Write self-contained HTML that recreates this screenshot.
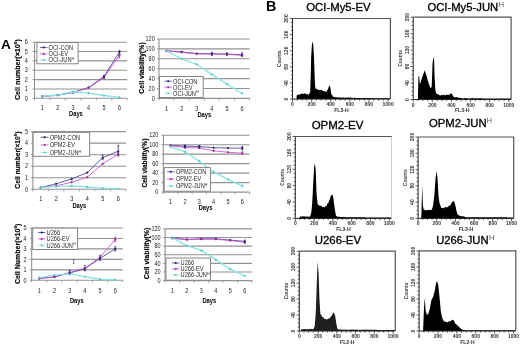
<!DOCTYPE html><html><head><meta charset="utf-8"><style>html,body{margin:0;padding:0;background:#fff;overflow:hidden;}svg{display:block;filter:blur(0.4px);}</style></head><body>
<svg width="520" height="345" viewBox="0 0 520 345" font-family='"Liberation Sans", sans-serif'>
<rect width="520" height="345" fill="#fff"/>
<line x1="34.5" y1="42.20" x2="127.2" y2="42.20" stroke="#929292" stroke-width="1.1"/>
<line x1="34.5" y1="51.55" x2="127.2" y2="51.55" stroke="#929292" stroke-width="1.1"/>
<line x1="34.5" y1="60.90" x2="127.2" y2="60.90" stroke="#929292" stroke-width="1.1"/>
<line x1="34.5" y1="70.25" x2="127.2" y2="70.25" stroke="#929292" stroke-width="1.1"/>
<line x1="34.5" y1="79.60" x2="127.2" y2="79.60" stroke="#929292" stroke-width="1.1"/>
<line x1="34.5" y1="88.95" x2="127.2" y2="88.95" stroke="#929292" stroke-width="1.1"/>
<line x1="34.5" y1="42.20" x2="34.5" y2="98.80" stroke="#929292" stroke-width="1.1"/>
<line x1="34.0" y1="98.30" x2="127.2" y2="98.30" stroke="#929292" stroke-width="1.1"/>
<line x1="32.5" y1="42.20" x2="34.5" y2="42.20" stroke="#929292" stroke-width="0.9"/>
<text transform="translate(27.90,44.40) scale(0.87,1)" font-size="6.3" text-anchor="end" fill="#222">6</text>
<line x1="32.5" y1="51.55" x2="34.5" y2="51.55" stroke="#929292" stroke-width="0.9"/>
<text transform="translate(27.90,53.75) scale(0.87,1)" font-size="6.3" text-anchor="end" fill="#222">5</text>
<line x1="32.5" y1="60.90" x2="34.5" y2="60.90" stroke="#929292" stroke-width="0.9"/>
<text transform="translate(27.90,63.10) scale(0.87,1)" font-size="6.3" text-anchor="end" fill="#222">4</text>
<line x1="32.5" y1="70.25" x2="34.5" y2="70.25" stroke="#929292" stroke-width="0.9"/>
<text transform="translate(27.90,72.45) scale(0.87,1)" font-size="6.3" text-anchor="end" fill="#222">3</text>
<line x1="32.5" y1="79.60" x2="34.5" y2="79.60" stroke="#929292" stroke-width="0.9"/>
<text transform="translate(27.90,81.80) scale(0.87,1)" font-size="6.3" text-anchor="end" fill="#222">2</text>
<line x1="32.5" y1="88.95" x2="34.5" y2="88.95" stroke="#929292" stroke-width="0.9"/>
<text transform="translate(27.90,91.15) scale(0.87,1)" font-size="6.3" text-anchor="end" fill="#222">1</text>
<line x1="32.5" y1="98.30" x2="34.5" y2="98.30" stroke="#929292" stroke-width="0.9"/>
<text transform="translate(27.90,100.50) scale(0.87,1)" font-size="6.3" text-anchor="end" fill="#222">0</text>
<line x1="34.50" y1="98.30" x2="34.50" y2="100.30" stroke="#929292" stroke-width="0.9"/>
<line x1="49.95" y1="98.30" x2="49.95" y2="100.30" stroke="#929292" stroke-width="0.9"/>
<line x1="65.40" y1="98.30" x2="65.40" y2="100.30" stroke="#929292" stroke-width="0.9"/>
<line x1="80.85" y1="98.30" x2="80.85" y2="100.30" stroke="#929292" stroke-width="0.9"/>
<line x1="96.30" y1="98.30" x2="96.30" y2="100.30" stroke="#929292" stroke-width="0.9"/>
<line x1="111.75" y1="98.30" x2="111.75" y2="100.30" stroke="#929292" stroke-width="0.9"/>
<line x1="127.20" y1="98.30" x2="127.20" y2="100.30" stroke="#929292" stroke-width="0.9"/>
<text transform="translate(42.23,110.15) scale(0.87,1)" font-size="6.3" text-anchor="middle" fill="#222">1</text>
<text transform="translate(57.68,110.15) scale(0.87,1)" font-size="6.3" text-anchor="middle" fill="#222">2</text>
<text transform="translate(73.12,110.15) scale(0.87,1)" font-size="6.3" text-anchor="middle" fill="#222">3</text>
<text transform="translate(88.58,110.15) scale(0.87,1)" font-size="6.3" text-anchor="middle" fill="#222">4</text>
<text transform="translate(104.03,110.15) scale(0.87,1)" font-size="6.3" text-anchor="middle" fill="#222">5</text>
<text transform="translate(119.47,110.15) scale(0.87,1)" font-size="6.3" text-anchor="middle" fill="#222">6</text>
<text transform="translate(75.90,115.70) scale(0.87,1)" font-size="6.6" font-weight="bold" text-anchor="middle" fill="#000">Days</text>
<text transform="translate(19.90,69.65) rotate(-90)" font-size="6.4" font-weight="bold" text-anchor="middle" fill="#000" stroke="#000" stroke-width="0.15" textLength="60.9" lengthAdjust="spacingAndGlyphs">Cell number(×10<tspan font-size="4.2" dy="-2.6">6</tspan><tspan dy="2.6">)</tspan></text>
<polyline points="42.23,96.43 57.68,95.21 73.12,92.50 88.58,87.55 104.03,76.33 119.47,52.02" fill="none" stroke="#40409a" stroke-width="0.85"/>
<rect x="41.27" y="95.48" width="1.9" height="1.9" fill="#1c1c64" transform="rotate(45 42.23 96.43)"/>
<rect x="56.73" y="94.26" width="1.9" height="1.9" fill="#1c1c64" transform="rotate(45 57.68 95.21)"/>
<rect x="72.17" y="91.55" width="1.9" height="1.9" fill="#1c1c64" transform="rotate(45 73.12 92.50)"/>
<rect x="87.62" y="86.60" width="1.9" height="1.9" fill="#1c1c64" transform="rotate(45 88.58 87.55)"/>
<rect x="103.08" y="75.38" width="1.9" height="1.9" fill="#1c1c64" transform="rotate(45 104.03 76.33)"/>
<rect x="118.52" y="51.07" width="1.9" height="1.9" fill="#1c1c64" transform="rotate(45 119.47 52.02)"/>
<polyline points="42.23,96.43 57.68,95.21 73.12,92.32 88.58,87.83 104.03,77.54 119.47,55.29" fill="none" stroke="#d048d0" stroke-width="0.85"/>
<rect x="41.27" y="95.48" width="1.9" height="1.9" fill="#a02894" transform="rotate(45 42.23 96.43)"/>
<rect x="56.73" y="94.26" width="1.9" height="1.9" fill="#a02894" transform="rotate(45 57.68 95.21)"/>
<rect x="72.17" y="91.37" width="1.9" height="1.9" fill="#a02894" transform="rotate(45 73.12 92.32)"/>
<rect x="87.62" y="86.88" width="1.9" height="1.9" fill="#a02894" transform="rotate(45 88.58 87.83)"/>
<rect x="103.08" y="76.59" width="1.9" height="1.9" fill="#a02894" transform="rotate(45 104.03 77.54)"/>
<rect x="118.52" y="54.34" width="1.9" height="1.9" fill="#a02894" transform="rotate(45 119.47 55.29)"/>
<polyline points="42.23,96.43 57.68,95.03 73.12,91.75 88.58,93.16 104.03,95.50 119.47,97.36" fill="none" stroke="#88e4e4" stroke-width="1.35"/>
<rect x="41.27" y="95.48" width="1.9" height="1.9" fill="#58c4c4" transform="rotate(45 42.23 96.43)"/>
<rect x="56.73" y="94.08" width="1.9" height="1.9" fill="#58c4c4" transform="rotate(45 57.68 95.03)"/>
<rect x="72.17" y="90.80" width="1.9" height="1.9" fill="#58c4c4" transform="rotate(45 73.12 91.75)"/>
<rect x="87.62" y="92.21" width="1.9" height="1.9" fill="#58c4c4" transform="rotate(45 88.58 93.16)"/>
<rect x="103.08" y="94.55" width="1.9" height="1.9" fill="#58c4c4" transform="rotate(45 104.03 95.50)"/>
<rect x="118.52" y="96.41" width="1.9" height="1.9" fill="#58c4c4" transform="rotate(45 119.47 97.36)"/>
<path d="M119.47 54.36V50.62M118.47 54.36h2M118.47 50.62h2" stroke="#1c1c64" stroke-width="0.7" fill="none"/>
<path d="M119.47 58.09V53.89M118.47 58.09h2M118.47 53.89h2" stroke="#a02894" stroke-width="0.7" fill="none"/>
<path d="M104.03 78.20V75.39M103.03 78.20h2M103.03 75.39h2" stroke="#1c1c64" stroke-width="0.7" fill="none"/>
<rect x="36.9" y="42.6" width="41.20" height="21.20" fill="#fff" stroke="#7a7a7a" stroke-width="0.9"/>
<line x1="40" y1="47.4" x2="47.4" y2="47.4" stroke="#40409a" stroke-width="0.8"/>
<rect x="42.80" y="46.50" width="1.8" height="1.8" fill="#1c1c64" transform="rotate(45 43.70 47.40)"/>
<text transform="translate(48.60,49.70) scale(0.87,1)" font-size="6.5" fill="#2a2a2a">OCI-CON</text>
<line x1="40" y1="53.9" x2="47.4" y2="53.9" stroke="#d048d0" stroke-width="0.8"/>
<rect x="42.80" y="53.00" width="1.8" height="1.8" fill="#a02894" transform="rotate(45 43.70 53.90)"/>
<text transform="translate(48.60,56.20) scale(0.87,1)" font-size="6.5" fill="#2a2a2a">OCI-EV</text>
<line x1="40" y1="59.9" x2="47.4" y2="59.9" stroke="#88e4e4" stroke-width="0.8"/>
<rect x="42.80" y="59.00" width="1.8" height="1.8" fill="#58c4c4" transform="rotate(45 43.70 59.90)"/>
<text transform="translate(48.60,62.20) scale(0.87,1)" font-size="6.5" fill="#2a2a2a">OCI-JUN<tspan font-size="4.2" dy="-2.4">H</tspan></text>
<line x1="159" y1="39.00" x2="249.6" y2="39.00" stroke="#929292" stroke-width="1.1"/>
<line x1="159" y1="48.90" x2="249.6" y2="48.90" stroke="#929292" stroke-width="1.1"/>
<line x1="159" y1="58.80" x2="249.6" y2="58.80" stroke="#929292" stroke-width="1.1"/>
<line x1="159" y1="68.70" x2="249.6" y2="68.70" stroke="#929292" stroke-width="1.1"/>
<line x1="159" y1="78.60" x2="249.6" y2="78.60" stroke="#929292" stroke-width="1.1"/>
<line x1="159" y1="88.50" x2="249.6" y2="88.50" stroke="#929292" stroke-width="1.1"/>
<line x1="159" y1="39.00" x2="159" y2="98.90" stroke="#929292" stroke-width="1.1"/>
<line x1="158.5" y1="98.40" x2="249.6" y2="98.40" stroke="#929292" stroke-width="1.1"/>
<line x1="157" y1="39.00" x2="159" y2="39.00" stroke="#929292" stroke-width="0.9"/>
<text transform="translate(154.70,41.20) scale(0.87,1)" font-size="6.3" text-anchor="end" fill="#222">120</text>
<line x1="157" y1="48.90" x2="159" y2="48.90" stroke="#929292" stroke-width="0.9"/>
<text transform="translate(154.70,51.10) scale(0.87,1)" font-size="6.3" text-anchor="end" fill="#222">100</text>
<line x1="157" y1="58.80" x2="159" y2="58.80" stroke="#929292" stroke-width="0.9"/>
<text transform="translate(154.70,61.00) scale(0.87,1)" font-size="6.3" text-anchor="end" fill="#222">80</text>
<line x1="157" y1="68.70" x2="159" y2="68.70" stroke="#929292" stroke-width="0.9"/>
<text transform="translate(154.70,70.90) scale(0.87,1)" font-size="6.3" text-anchor="end" fill="#222">60</text>
<line x1="157" y1="78.60" x2="159" y2="78.60" stroke="#929292" stroke-width="0.9"/>
<text transform="translate(154.70,80.80) scale(0.87,1)" font-size="6.3" text-anchor="end" fill="#222">40</text>
<line x1="157" y1="88.50" x2="159" y2="88.50" stroke="#929292" stroke-width="0.9"/>
<text transform="translate(154.70,90.70) scale(0.87,1)" font-size="6.3" text-anchor="end" fill="#222">20</text>
<line x1="157" y1="98.40" x2="159" y2="98.40" stroke="#929292" stroke-width="0.9"/>
<text transform="translate(154.70,100.60) scale(0.87,1)" font-size="6.3" text-anchor="end" fill="#222">0</text>
<line x1="159.00" y1="98.40" x2="159.00" y2="100.40" stroke="#929292" stroke-width="0.9"/>
<line x1="174.10" y1="98.40" x2="174.10" y2="100.40" stroke="#929292" stroke-width="0.9"/>
<line x1="189.20" y1="98.40" x2="189.20" y2="100.40" stroke="#929292" stroke-width="0.9"/>
<line x1="204.30" y1="98.40" x2="204.30" y2="100.40" stroke="#929292" stroke-width="0.9"/>
<line x1="219.40" y1="98.40" x2="219.40" y2="100.40" stroke="#929292" stroke-width="0.9"/>
<line x1="234.50" y1="98.40" x2="234.50" y2="100.40" stroke="#929292" stroke-width="0.9"/>
<line x1="249.60" y1="98.40" x2="249.60" y2="100.40" stroke="#929292" stroke-width="0.9"/>
<text transform="translate(166.55,110.75) scale(0.87,1)" font-size="6.3" text-anchor="middle" fill="#222">1</text>
<text transform="translate(181.65,110.75) scale(0.87,1)" font-size="6.3" text-anchor="middle" fill="#222">2</text>
<text transform="translate(196.75,110.75) scale(0.87,1)" font-size="6.3" text-anchor="middle" fill="#222">3</text>
<text transform="translate(211.85,110.75) scale(0.87,1)" font-size="6.3" text-anchor="middle" fill="#222">4</text>
<text transform="translate(226.95,110.75) scale(0.87,1)" font-size="6.3" text-anchor="middle" fill="#222">5</text>
<text transform="translate(242.05,110.75) scale(0.87,1)" font-size="6.3" text-anchor="middle" fill="#222">6</text>
<text transform="translate(204.30,116.70) scale(0.87,1)" font-size="6.6" font-weight="bold" text-anchor="middle" fill="#000">Days</text>
<text transform="translate(144.40,68.00) rotate(-90)" font-size="6.4" font-weight="bold" text-anchor="middle" fill="#000" stroke="#000" stroke-width="0.15" textLength="51.4" lengthAdjust="spacingAndGlyphs">Cell viability(%)</text>
<polyline points="166.55,50.88 181.65,51.87 196.75,53.60 211.85,53.85 226.95,54.10 242.05,54.84" fill="none" stroke="#40409a" stroke-width="0.85"/>
<rect x="165.60" y="49.93" width="1.9" height="1.9" fill="#1c1c64" transform="rotate(45 166.55 50.88)"/>
<rect x="180.70" y="50.92" width="1.9" height="1.9" fill="#1c1c64" transform="rotate(45 181.65 51.87)"/>
<rect x="195.80" y="52.65" width="1.9" height="1.9" fill="#1c1c64" transform="rotate(45 196.75 53.60)"/>
<rect x="210.90" y="52.90" width="1.9" height="1.9" fill="#1c1c64" transform="rotate(45 211.85 53.85)"/>
<rect x="226.00" y="53.15" width="1.9" height="1.9" fill="#1c1c64" transform="rotate(45 226.95 54.10)"/>
<rect x="241.10" y="53.89" width="1.9" height="1.9" fill="#1c1c64" transform="rotate(45 242.05 54.84)"/>
<polyline points="166.55,50.88 181.65,52.37 196.75,53.85 211.85,54.10 226.95,54.34 242.05,55.34" fill="none" stroke="#d048d0" stroke-width="0.85"/>
<rect x="165.60" y="49.93" width="1.9" height="1.9" fill="#a02894" transform="rotate(45 166.55 50.88)"/>
<rect x="180.70" y="51.41" width="1.9" height="1.9" fill="#a02894" transform="rotate(45 181.65 52.37)"/>
<rect x="195.80" y="52.90" width="1.9" height="1.9" fill="#a02894" transform="rotate(45 196.75 53.85)"/>
<rect x="210.90" y="53.15" width="1.9" height="1.9" fill="#a02894" transform="rotate(45 211.85 54.10)"/>
<rect x="226.00" y="53.39" width="1.9" height="1.9" fill="#a02894" transform="rotate(45 226.95 54.34)"/>
<rect x="241.10" y="54.38" width="1.9" height="1.9" fill="#a02894" transform="rotate(45 242.05 55.34)"/>
<polyline points="166.55,50.88 181.65,58.80 196.75,64.25 211.85,74.39 226.95,84.05 242.05,93.45" fill="none" stroke="#88e4e4" stroke-width="1.35"/>
<rect x="165.60" y="49.93" width="1.9" height="1.9" fill="#58c4c4" transform="rotate(45 166.55 50.88)"/>
<rect x="180.70" y="57.85" width="1.9" height="1.9" fill="#58c4c4" transform="rotate(45 181.65 58.80)"/>
<rect x="195.80" y="63.30" width="1.9" height="1.9" fill="#58c4c4" transform="rotate(45 196.75 64.25)"/>
<rect x="210.90" y="73.44" width="1.9" height="1.9" fill="#58c4c4" transform="rotate(45 211.85 74.39)"/>
<rect x="226.00" y="83.09" width="1.9" height="1.9" fill="#58c4c4" transform="rotate(45 226.95 84.05)"/>
<rect x="241.10" y="92.50" width="1.9" height="1.9" fill="#58c4c4" transform="rotate(45 242.05 93.45)"/>
<path d="M211.85 55.34V52.37M210.85 55.34h2M210.85 52.37h2" stroke="#1c1c64" stroke-width="0.7" fill="none"/>
<path d="M226.95 55.34V52.86M225.95 55.34h2M225.95 52.86h2" stroke="#1c1c64" stroke-width="0.7" fill="none"/>
<path d="M242.05 56.33V52.86M241.05 56.33h2M241.05 52.86h2" stroke="#1c1c64" stroke-width="0.7" fill="none"/>
<rect x="159.5" y="76.5" width="43.70" height="21.00" fill="#fff" stroke="#7a7a7a" stroke-width="0.9"/>
<line x1="164.5" y1="81.2" x2="171.8" y2="81.2" stroke="#40409a" stroke-width="0.8"/>
<rect x="167.25" y="80.30" width="1.8" height="1.8" fill="#1c1c64" transform="rotate(45 168.15 81.20)"/>
<text transform="translate(173.00,83.50) scale(0.87,1)" font-size="6.5" fill="#2a2a2a">OCI-CON</text>
<line x1="164.5" y1="87.2" x2="171.8" y2="87.2" stroke="#d048d0" stroke-width="0.8"/>
<rect x="167.25" y="86.30" width="1.8" height="1.8" fill="#a02894" transform="rotate(45 168.15 87.20)"/>
<text transform="translate(173.00,89.50) scale(0.87,1)" font-size="6.5" fill="#2a2a2a">OCI-EV</text>
<line x1="164.5" y1="93.2" x2="171.8" y2="93.2" stroke="#88e4e4" stroke-width="0.8"/>
<rect x="167.25" y="92.30" width="1.8" height="1.8" fill="#58c4c4" transform="rotate(45 168.15 93.20)"/>
<text transform="translate(173.00,95.50) scale(0.87,1)" font-size="6.5" fill="#2a2a2a">OCI-JUN<tspan font-size="4.2" dy="-2.4">H</tspan></text>
<line x1="32.9" y1="131.60" x2="126" y2="131.60" stroke="#929292" stroke-width="1.1"/>
<line x1="32.9" y1="143.14" x2="126" y2="143.14" stroke="#929292" stroke-width="1.1"/>
<line x1="32.9" y1="154.68" x2="126" y2="154.68" stroke="#929292" stroke-width="1.1"/>
<line x1="32.9" y1="166.22" x2="126" y2="166.22" stroke="#929292" stroke-width="1.1"/>
<line x1="32.9" y1="177.76" x2="126" y2="177.76" stroke="#929292" stroke-width="1.1"/>
<line x1="32.9" y1="131.60" x2="32.9" y2="189.80" stroke="#929292" stroke-width="1.1"/>
<line x1="32.4" y1="189.30" x2="126" y2="189.30" stroke="#929292" stroke-width="1.1"/>
<line x1="30.9" y1="131.60" x2="32.9" y2="131.60" stroke="#929292" stroke-width="0.9"/>
<text transform="translate(28.00,133.80) scale(0.87,1)" font-size="6.3" text-anchor="end" fill="#222">5</text>
<line x1="30.9" y1="143.14" x2="32.9" y2="143.14" stroke="#929292" stroke-width="0.9"/>
<text transform="translate(28.00,145.34) scale(0.87,1)" font-size="6.3" text-anchor="end" fill="#222">4</text>
<line x1="30.9" y1="154.68" x2="32.9" y2="154.68" stroke="#929292" stroke-width="0.9"/>
<text transform="translate(28.00,156.88) scale(0.87,1)" font-size="6.3" text-anchor="end" fill="#222">3</text>
<line x1="30.9" y1="166.22" x2="32.9" y2="166.22" stroke="#929292" stroke-width="0.9"/>
<text transform="translate(28.00,168.42) scale(0.87,1)" font-size="6.3" text-anchor="end" fill="#222">2</text>
<line x1="30.9" y1="177.76" x2="32.9" y2="177.76" stroke="#929292" stroke-width="0.9"/>
<text transform="translate(28.00,179.96) scale(0.87,1)" font-size="6.3" text-anchor="end" fill="#222">1</text>
<line x1="30.9" y1="189.30" x2="32.9" y2="189.30" stroke="#929292" stroke-width="0.9"/>
<text transform="translate(28.00,191.50) scale(0.87,1)" font-size="6.3" text-anchor="end" fill="#222">0</text>
<line x1="32.90" y1="189.30" x2="32.90" y2="191.30" stroke="#929292" stroke-width="0.9"/>
<line x1="48.42" y1="189.30" x2="48.42" y2="191.30" stroke="#929292" stroke-width="0.9"/>
<line x1="63.93" y1="189.30" x2="63.93" y2="191.30" stroke="#929292" stroke-width="0.9"/>
<line x1="79.45" y1="189.30" x2="79.45" y2="191.30" stroke="#929292" stroke-width="0.9"/>
<line x1="94.97" y1="189.30" x2="94.97" y2="191.30" stroke="#929292" stroke-width="0.9"/>
<line x1="110.48" y1="189.30" x2="110.48" y2="191.30" stroke="#929292" stroke-width="0.9"/>
<line x1="126.00" y1="189.30" x2="126.00" y2="191.30" stroke="#929292" stroke-width="0.9"/>
<text transform="translate(40.66,201.15) scale(0.87,1)" font-size="6.3" text-anchor="middle" fill="#222">1</text>
<text transform="translate(56.17,201.15) scale(0.87,1)" font-size="6.3" text-anchor="middle" fill="#222">2</text>
<text transform="translate(71.69,201.15) scale(0.87,1)" font-size="6.3" text-anchor="middle" fill="#222">3</text>
<text transform="translate(87.21,201.15) scale(0.87,1)" font-size="6.3" text-anchor="middle" fill="#222">4</text>
<text transform="translate(102.72,201.15) scale(0.87,1)" font-size="6.3" text-anchor="middle" fill="#222">5</text>
<text transform="translate(118.24,201.15) scale(0.87,1)" font-size="6.3" text-anchor="middle" fill="#222">6</text>
<text transform="translate(79.30,207.70) scale(0.87,1)" font-size="6.6" font-weight="bold" text-anchor="middle" fill="#000">Days</text>
<text transform="translate(19.60,160.15) rotate(-90)" font-size="6.4" font-weight="bold" text-anchor="middle" fill="#000" stroke="#000" stroke-width="0.15" textLength="57.1" lengthAdjust="spacingAndGlyphs">Cell number(×10<tspan font-size="4.2" dy="-2.6">6</tspan><tspan dy="2.6">)</tspan></text>
<polyline points="40.66,187.57 56.17,183.76 71.69,178.91 87.21,172.57 102.72,157.68 118.24,151.22" fill="none" stroke="#40409a" stroke-width="0.85"/>
<rect x="39.71" y="186.62" width="1.9" height="1.9" fill="#1c1c64" transform="rotate(45 40.66 187.57)"/>
<rect x="55.22" y="182.81" width="1.9" height="1.9" fill="#1c1c64" transform="rotate(45 56.17 183.76)"/>
<rect x="70.74" y="177.96" width="1.9" height="1.9" fill="#1c1c64" transform="rotate(45 71.69 178.91)"/>
<rect x="86.26" y="171.62" width="1.9" height="1.9" fill="#1c1c64" transform="rotate(45 87.21 172.57)"/>
<rect x="101.77" y="156.73" width="1.9" height="1.9" fill="#1c1c64" transform="rotate(45 102.72 157.68)"/>
<rect x="117.29" y="150.27" width="1.9" height="1.9" fill="#1c1c64" transform="rotate(45 118.24 151.22)"/>
<polyline points="40.66,187.57 56.17,185.95 71.69,182.15 87.21,177.18 102.72,163.91 118.24,154.10" fill="none" stroke="#d048d0" stroke-width="0.85"/>
<rect x="39.71" y="186.62" width="1.9" height="1.9" fill="#a02894" transform="rotate(45 40.66 187.57)"/>
<rect x="55.22" y="185.00" width="1.9" height="1.9" fill="#a02894" transform="rotate(45 56.17 185.95)"/>
<rect x="70.74" y="181.20" width="1.9" height="1.9" fill="#a02894" transform="rotate(45 71.69 182.15)"/>
<rect x="86.26" y="176.23" width="1.9" height="1.9" fill="#a02894" transform="rotate(45 87.21 177.18)"/>
<rect x="101.77" y="162.96" width="1.9" height="1.9" fill="#a02894" transform="rotate(45 102.72 163.91)"/>
<rect x="117.29" y="153.15" width="1.9" height="1.9" fill="#a02894" transform="rotate(45 118.24 154.10)"/>
<polyline points="40.66,187.57 56.17,186.42 71.69,185.84 87.21,186.99 102.72,188.15 118.24,188.72" fill="none" stroke="#88e4e4" stroke-width="1.35"/>
<rect x="39.71" y="186.62" width="1.9" height="1.9" fill="#58c4c4" transform="rotate(45 40.66 187.57)"/>
<rect x="55.22" y="185.47" width="1.9" height="1.9" fill="#58c4c4" transform="rotate(45 56.17 186.42)"/>
<rect x="70.74" y="184.89" width="1.9" height="1.9" fill="#58c4c4" transform="rotate(45 71.69 185.84)"/>
<rect x="86.26" y="186.04" width="1.9" height="1.9" fill="#58c4c4" transform="rotate(45 87.21 186.99)"/>
<rect x="101.77" y="187.20" width="1.9" height="1.9" fill="#58c4c4" transform="rotate(45 102.72 188.15)"/>
<rect x="117.29" y="187.77" width="1.9" height="1.9" fill="#58c4c4" transform="rotate(45 118.24 188.72)"/>
<path d="M118.24 155.83V145.45M117.24 155.83h2M117.24 145.45h2" stroke="#1c1c64" stroke-width="0.7" fill="none"/>
<path d="M102.72 159.30V155.26M101.72 159.30h2M101.72 155.26h2" stroke="#1c1c64" stroke-width="0.7" fill="none"/>
<path d="M118.24 155.83V152.37M117.24 155.83h2M117.24 152.37h2" stroke="#a02894" stroke-width="0.7" fill="none"/>
<rect x="33.1" y="132.3" width="56.60" height="24.00" fill="#fff" stroke="#7a7a7a" stroke-width="0.9"/>
<line x1="40.8" y1="137.2" x2="48.5" y2="137.2" stroke="#40409a" stroke-width="0.8"/>
<rect x="43.75" y="136.30" width="1.8" height="1.8" fill="#1c1c64" transform="rotate(45 44.65 137.20)"/>
<text transform="translate(49.70,139.50) scale(0.87,1)" font-size="6.5" fill="#2a2a2a">OPM2-CON</text>
<line x1="40.8" y1="144.9" x2="48.5" y2="144.9" stroke="#d048d0" stroke-width="0.8"/>
<rect x="43.75" y="144.00" width="1.8" height="1.8" fill="#a02894" transform="rotate(45 44.65 144.90)"/>
<text transform="translate(49.70,147.20) scale(0.87,1)" font-size="6.5" fill="#2a2a2a">OPM2-EV</text>
<line x1="40.8" y1="152.6" x2="48.5" y2="152.6" stroke="#88e4e4" stroke-width="0.8"/>
<rect x="43.75" y="151.70" width="1.8" height="1.8" fill="#58c4c4" transform="rotate(45 44.65 152.60)"/>
<text transform="translate(49.70,154.90) scale(0.87,1)" font-size="6.5" fill="#2a2a2a">OPM2-JUN<tspan font-size="4.2" dy="-2.4">H</tspan></text>
<line x1="163.4" y1="135.20" x2="249.5" y2="135.20" stroke="#929292" stroke-width="1.1"/>
<line x1="163.4" y1="144.68" x2="249.5" y2="144.68" stroke="#929292" stroke-width="1.1"/>
<line x1="163.4" y1="154.17" x2="249.5" y2="154.17" stroke="#929292" stroke-width="1.1"/>
<line x1="163.4" y1="163.65" x2="249.5" y2="163.65" stroke="#929292" stroke-width="1.1"/>
<line x1="163.4" y1="173.13" x2="249.5" y2="173.13" stroke="#929292" stroke-width="1.1"/>
<line x1="163.4" y1="182.62" x2="249.5" y2="182.62" stroke="#929292" stroke-width="1.1"/>
<line x1="163.4" y1="135.20" x2="163.4" y2="192.60" stroke="#929292" stroke-width="1.1"/>
<line x1="162.9" y1="192.10" x2="249.5" y2="192.10" stroke="#929292" stroke-width="1.1"/>
<line x1="161.4" y1="135.20" x2="163.4" y2="135.20" stroke="#929292" stroke-width="0.9"/>
<text transform="translate(158.40,137.40) scale(0.87,1)" font-size="6.3" text-anchor="end" fill="#222">120</text>
<line x1="161.4" y1="144.68" x2="163.4" y2="144.68" stroke="#929292" stroke-width="0.9"/>
<text transform="translate(158.40,146.88) scale(0.87,1)" font-size="6.3" text-anchor="end" fill="#222">100</text>
<line x1="161.4" y1="154.17" x2="163.4" y2="154.17" stroke="#929292" stroke-width="0.9"/>
<text transform="translate(158.40,156.37) scale(0.87,1)" font-size="6.3" text-anchor="end" fill="#222">80</text>
<line x1="161.4" y1="163.65" x2="163.4" y2="163.65" stroke="#929292" stroke-width="0.9"/>
<text transform="translate(158.40,165.85) scale(0.87,1)" font-size="6.3" text-anchor="end" fill="#222">60</text>
<line x1="161.4" y1="173.13" x2="163.4" y2="173.13" stroke="#929292" stroke-width="0.9"/>
<text transform="translate(158.40,175.33) scale(0.87,1)" font-size="6.3" text-anchor="end" fill="#222">40</text>
<line x1="161.4" y1="182.62" x2="163.4" y2="182.62" stroke="#929292" stroke-width="0.9"/>
<text transform="translate(158.40,184.82) scale(0.87,1)" font-size="6.3" text-anchor="end" fill="#222">20</text>
<line x1="161.4" y1="192.10" x2="163.4" y2="192.10" stroke="#929292" stroke-width="0.9"/>
<text transform="translate(158.40,194.30) scale(0.87,1)" font-size="6.3" text-anchor="end" fill="#222">0</text>
<line x1="163.40" y1="192.10" x2="163.40" y2="194.10" stroke="#929292" stroke-width="0.9"/>
<line x1="177.75" y1="192.10" x2="177.75" y2="194.10" stroke="#929292" stroke-width="0.9"/>
<line x1="192.10" y1="192.10" x2="192.10" y2="194.10" stroke="#929292" stroke-width="0.9"/>
<line x1="206.45" y1="192.10" x2="206.45" y2="194.10" stroke="#929292" stroke-width="0.9"/>
<line x1="220.80" y1="192.10" x2="220.80" y2="194.10" stroke="#929292" stroke-width="0.9"/>
<line x1="235.15" y1="192.10" x2="235.15" y2="194.10" stroke="#929292" stroke-width="0.9"/>
<line x1="249.50" y1="192.10" x2="249.50" y2="194.10" stroke="#929292" stroke-width="0.9"/>
<text transform="translate(170.58,203.75) scale(0.87,1)" font-size="6.3" text-anchor="middle" fill="#222">1</text>
<text transform="translate(184.93,203.75) scale(0.87,1)" font-size="6.3" text-anchor="middle" fill="#222">2</text>
<text transform="translate(199.28,203.75) scale(0.87,1)" font-size="6.3" text-anchor="middle" fill="#222">3</text>
<text transform="translate(213.62,203.75) scale(0.87,1)" font-size="6.3" text-anchor="middle" fill="#222">4</text>
<text transform="translate(227.98,203.75) scale(0.87,1)" font-size="6.3" text-anchor="middle" fill="#222">5</text>
<text transform="translate(242.33,203.75) scale(0.87,1)" font-size="6.3" text-anchor="middle" fill="#222">6</text>
<text transform="translate(205.50,210.30) scale(0.87,1)" font-size="6.6" font-weight="bold" text-anchor="middle" fill="#000">Days</text>
<text transform="translate(147.00,163.10) rotate(-90)" font-size="6.4" font-weight="bold" text-anchor="middle" fill="#000" stroke="#000" stroke-width="0.15" textLength="49" lengthAdjust="spacingAndGlyphs">Cell viability(%)</text>
<polyline points="170.58,145.39 184.93,146.11 199.28,146.58 213.62,147.72 227.98,148.00 242.33,148.19" fill="none" stroke="#40409a" stroke-width="0.85"/>
<rect x="169.63" y="144.44" width="1.9" height="1.9" fill="#1c1c64" transform="rotate(45 170.58 145.39)"/>
<rect x="183.98" y="145.16" width="1.9" height="1.9" fill="#1c1c64" transform="rotate(45 184.93 146.11)"/>
<rect x="198.33" y="145.63" width="1.9" height="1.9" fill="#1c1c64" transform="rotate(45 199.28 146.58)"/>
<rect x="212.68" y="146.77" width="1.9" height="1.9" fill="#1c1c64" transform="rotate(45 213.62 147.72)"/>
<rect x="227.03" y="147.05" width="1.9" height="1.9" fill="#1c1c64" transform="rotate(45 227.98 148.00)"/>
<rect x="241.38" y="147.24" width="1.9" height="1.9" fill="#1c1c64" transform="rotate(45 242.33 148.19)"/>
<polyline points="170.58,145.63 184.93,147.53 199.28,148.00 213.62,150.85 227.98,152.27 242.33,153.22" fill="none" stroke="#d048d0" stroke-width="0.85"/>
<rect x="169.63" y="144.68" width="1.9" height="1.9" fill="#a02894" transform="rotate(45 170.58 145.63)"/>
<rect x="183.98" y="146.58" width="1.9" height="1.9" fill="#a02894" transform="rotate(45 184.93 147.53)"/>
<rect x="198.33" y="147.05" width="1.9" height="1.9" fill="#a02894" transform="rotate(45 199.28 148.00)"/>
<rect x="212.68" y="149.90" width="1.9" height="1.9" fill="#a02894" transform="rotate(45 213.62 150.85)"/>
<rect x="227.03" y="151.32" width="1.9" height="1.9" fill="#a02894" transform="rotate(45 227.98 152.27)"/>
<rect x="241.38" y="152.27" width="1.9" height="1.9" fill="#a02894" transform="rotate(45 242.33 153.22)"/>
<polyline points="170.58,146.58 184.93,151.80 199.28,161.28 213.62,171.95 227.98,179.30 242.33,185.94" fill="none" stroke="#88e4e4" stroke-width="1.35"/>
<rect x="169.63" y="145.63" width="1.9" height="1.9" fill="#58c4c4" transform="rotate(45 170.58 146.58)"/>
<rect x="183.98" y="150.85" width="1.9" height="1.9" fill="#58c4c4" transform="rotate(45 184.93 151.80)"/>
<rect x="198.33" y="160.33" width="1.9" height="1.9" fill="#58c4c4" transform="rotate(45 199.28 161.28)"/>
<rect x="212.68" y="171.00" width="1.9" height="1.9" fill="#58c4c4" transform="rotate(45 213.62 171.95)"/>
<rect x="227.03" y="178.35" width="1.9" height="1.9" fill="#58c4c4" transform="rotate(45 227.98 179.30)"/>
<rect x="241.38" y="184.99" width="1.9" height="1.9" fill="#58c4c4" transform="rotate(45 242.33 185.94)"/>
<path d="M242.33 149.90V146.58M241.33 149.90h2M241.33 146.58h2" stroke="#1c1c64" stroke-width="0.7" fill="none"/>
<path d="M242.33 154.17V151.80M241.33 154.17h2M241.33 151.80h2" stroke="#a02894" stroke-width="0.7" fill="none"/>
<path d="M184.93 148.00V145.16M183.93 148.00h2M183.93 145.16h2" stroke="#1c1c64" stroke-width="0.7" fill="none"/>
<path d="M199.28 148.00V145.63M198.28 148.00h2M198.28 145.63h2" stroke="#1c1c64" stroke-width="0.7" fill="none"/>
<rect x="164.2" y="167.6" width="46.20" height="23.60" fill="#fff" stroke="#7a7a7a" stroke-width="0.9"/>
<line x1="167.1" y1="171.8" x2="174.5" y2="171.8" stroke="#40409a" stroke-width="0.8"/>
<rect x="169.90" y="170.90" width="1.8" height="1.8" fill="#1c1c64" transform="rotate(45 170.80 171.80)"/>
<text transform="translate(175.90,174.10) scale(0.87,1)" font-size="6.5" fill="#2a2a2a">OPM2-CON</text>
<line x1="167.1" y1="179.1" x2="174.5" y2="179.1" stroke="#d048d0" stroke-width="0.8"/>
<rect x="169.90" y="178.20" width="1.8" height="1.8" fill="#a02894" transform="rotate(45 170.80 179.10)"/>
<text transform="translate(175.90,181.40) scale(0.87,1)" font-size="6.5" fill="#2a2a2a">OPM2-EV</text>
<line x1="167.1" y1="186" x2="174.5" y2="186" stroke="#88e4e4" stroke-width="0.8"/>
<rect x="169.90" y="185.10" width="1.8" height="1.8" fill="#58c4c4" transform="rotate(45 170.80 186.00)"/>
<text transform="translate(175.90,188.30) scale(0.87,1)" font-size="6.5" fill="#2a2a2a">OPM2-JUN<tspan font-size="4.2" dy="-2.4">H</tspan></text>
<line x1="31.7" y1="228.00" x2="122.8" y2="228.00" stroke="#929292" stroke-width="1.1"/>
<line x1="31.7" y1="238.46" x2="122.8" y2="238.46" stroke="#929292" stroke-width="1.1"/>
<line x1="31.7" y1="248.92" x2="122.8" y2="248.92" stroke="#929292" stroke-width="1.1"/>
<line x1="31.7" y1="259.38" x2="122.8" y2="259.38" stroke="#929292" stroke-width="1.1"/>
<line x1="31.7" y1="269.84" x2="122.8" y2="269.84" stroke="#929292" stroke-width="1.1"/>
<line x1="31.7" y1="228.00" x2="31.7" y2="280.80" stroke="#929292" stroke-width="1.1"/>
<line x1="31.2" y1="280.30" x2="122.8" y2="280.30" stroke="#929292" stroke-width="1.1"/>
<line x1="29.7" y1="228.00" x2="31.7" y2="228.00" stroke="#929292" stroke-width="0.9"/>
<text transform="translate(26.50,230.20) scale(0.87,1)" font-size="6.3" text-anchor="end" fill="#222">5</text>
<line x1="29.7" y1="238.46" x2="31.7" y2="238.46" stroke="#929292" stroke-width="0.9"/>
<text transform="translate(26.50,240.66) scale(0.87,1)" font-size="6.3" text-anchor="end" fill="#222">4</text>
<line x1="29.7" y1="248.92" x2="31.7" y2="248.92" stroke="#929292" stroke-width="0.9"/>
<text transform="translate(26.50,251.12) scale(0.87,1)" font-size="6.3" text-anchor="end" fill="#222">3</text>
<line x1="29.7" y1="259.38" x2="31.7" y2="259.38" stroke="#929292" stroke-width="0.9"/>
<text transform="translate(26.50,261.58) scale(0.87,1)" font-size="6.3" text-anchor="end" fill="#222">2</text>
<line x1="29.7" y1="269.84" x2="31.7" y2="269.84" stroke="#929292" stroke-width="0.9"/>
<text transform="translate(26.50,272.04) scale(0.87,1)" font-size="6.3" text-anchor="end" fill="#222">1</text>
<line x1="29.7" y1="280.30" x2="31.7" y2="280.30" stroke="#929292" stroke-width="0.9"/>
<text transform="translate(26.50,282.50) scale(0.87,1)" font-size="6.3" text-anchor="end" fill="#222">0</text>
<line x1="31.70" y1="280.30" x2="31.70" y2="282.30" stroke="#929292" stroke-width="0.9"/>
<line x1="46.88" y1="280.30" x2="46.88" y2="282.30" stroke="#929292" stroke-width="0.9"/>
<line x1="62.07" y1="280.30" x2="62.07" y2="282.30" stroke="#929292" stroke-width="0.9"/>
<line x1="77.25" y1="280.30" x2="77.25" y2="282.30" stroke="#929292" stroke-width="0.9"/>
<line x1="92.43" y1="280.30" x2="92.43" y2="282.30" stroke="#929292" stroke-width="0.9"/>
<line x1="107.62" y1="280.30" x2="107.62" y2="282.30" stroke="#929292" stroke-width="0.9"/>
<line x1="122.80" y1="280.30" x2="122.80" y2="282.30" stroke="#929292" stroke-width="0.9"/>
<text transform="translate(39.29,292.75) scale(0.87,1)" font-size="6.3" text-anchor="middle" fill="#222">1</text>
<text transform="translate(54.47,292.75) scale(0.87,1)" font-size="6.3" text-anchor="middle" fill="#222">2</text>
<text transform="translate(69.66,292.75) scale(0.87,1)" font-size="6.3" text-anchor="middle" fill="#222">3</text>
<text transform="translate(84.84,292.75) scale(0.87,1)" font-size="6.3" text-anchor="middle" fill="#222">4</text>
<text transform="translate(100.02,292.75) scale(0.87,1)" font-size="6.3" text-anchor="middle" fill="#222">5</text>
<text transform="translate(115.21,292.75) scale(0.87,1)" font-size="6.3" text-anchor="middle" fill="#222">6</text>
<text transform="translate(76.80,302.70) scale(0.87,1)" font-size="6.6" font-weight="bold" text-anchor="middle" fill="#000">Days</text>
<text transform="translate(19.70,253.90) rotate(-90)" font-size="6.4" font-weight="bold" text-anchor="middle" fill="#000" stroke="#000" stroke-width="0.15" textLength="60.4" lengthAdjust="spacingAndGlyphs">Cell Number(×10<tspan font-size="4.2" dy="-2.6">6</tspan><tspan dy="2.6">)</tspan></text>
<polyline points="39.29,278.42 54.47,276.95 69.66,272.98 84.84,268.79 100.02,258.33 115.21,248.92" fill="none" stroke="#40409a" stroke-width="0.85"/>
<rect x="38.34" y="277.47" width="1.9" height="1.9" fill="#1c1c64" transform="rotate(45 39.29 278.42)"/>
<rect x="53.52" y="276.00" width="1.9" height="1.9" fill="#1c1c64" transform="rotate(45 54.47 276.95)"/>
<rect x="68.71" y="272.03" width="1.9" height="1.9" fill="#1c1c64" transform="rotate(45 69.66 272.98)"/>
<rect x="83.89" y="267.84" width="1.9" height="1.9" fill="#1c1c64" transform="rotate(45 84.84 268.79)"/>
<rect x="99.07" y="257.38" width="1.9" height="1.9" fill="#1c1c64" transform="rotate(45 100.02 258.33)"/>
<rect x="114.26" y="247.97" width="1.9" height="1.9" fill="#1c1c64" transform="rotate(45 115.21 248.92)"/>
<polyline points="39.29,278.42 54.47,276.95 69.66,272.45 84.84,268.27 100.02,257.29 115.21,239.51" fill="none" stroke="#d048d0" stroke-width="0.85"/>
<rect x="38.34" y="277.47" width="1.9" height="1.9" fill="#a02894" transform="rotate(45 39.29 278.42)"/>
<rect x="53.52" y="276.00" width="1.9" height="1.9" fill="#a02894" transform="rotate(45 54.47 276.95)"/>
<rect x="68.71" y="271.50" width="1.9" height="1.9" fill="#a02894" transform="rotate(45 69.66 272.45)"/>
<rect x="83.89" y="267.32" width="1.9" height="1.9" fill="#a02894" transform="rotate(45 84.84 268.27)"/>
<rect x="99.07" y="256.34" width="1.9" height="1.9" fill="#a02894" transform="rotate(45 100.02 257.29)"/>
<rect x="114.26" y="238.56" width="1.9" height="1.9" fill="#a02894" transform="rotate(45 115.21 239.51)"/>
<polyline points="39.29,277.69 54.47,275.07 69.66,273.61 84.84,276.64 100.02,279.25 115.21,279.78" fill="none" stroke="#88e4e4" stroke-width="1.35"/>
<rect x="38.34" y="276.74" width="1.9" height="1.9" fill="#58c4c4" transform="rotate(45 39.29 277.69)"/>
<rect x="53.52" y="274.12" width="1.9" height="1.9" fill="#58c4c4" transform="rotate(45 54.47 275.07)"/>
<rect x="68.71" y="272.66" width="1.9" height="1.9" fill="#58c4c4" transform="rotate(45 69.66 273.61)"/>
<rect x="83.89" y="275.69" width="1.9" height="1.9" fill="#58c4c4" transform="rotate(45 84.84 276.64)"/>
<rect x="99.07" y="278.30" width="1.9" height="1.9" fill="#58c4c4" transform="rotate(45 100.02 279.25)"/>
<rect x="114.26" y="278.83" width="1.9" height="1.9" fill="#58c4c4" transform="rotate(45 115.21 279.78)"/>
<path d="M115.21 241.60V237.41M114.21 241.60h2M114.21 237.41h2" stroke="#a02894" stroke-width="0.7" fill="none"/>
<path d="M115.21 251.01V246.83M114.21 251.01h2M114.21 246.83h2" stroke="#1c1c64" stroke-width="0.7" fill="none"/>
<path d="M100.02 260.43V255.20M99.02 260.43h2M99.02 255.20h2" stroke="#1c1c64" stroke-width="0.7" fill="none"/>
<path d="M84.84 270.89V265.66M83.84 270.89h2M83.84 265.66h2" stroke="#1c1c64" stroke-width="0.7" fill="none"/>
<path d="M69.66 274.02V270.36M68.66 274.02h2M68.66 270.36h2" stroke="#1c1c64" stroke-width="0.7" fill="none"/>
<rect x="32.7" y="228.1" width="44.90" height="21.40" fill="#fff" stroke="#7a7a7a" stroke-width="0.9"/>
<line x1="38.2" y1="232.5" x2="45.4" y2="232.5" stroke="#40409a" stroke-width="0.8"/>
<rect x="40.90" y="231.60" width="1.8" height="1.8" fill="#1c1c64" transform="rotate(45 41.80 232.50)"/>
<text transform="translate(46.60,234.80) scale(0.87,1)" font-size="6.5" fill="#2a2a2a">U266</text>
<line x1="38.2" y1="238.9" x2="45.4" y2="238.9" stroke="#d048d0" stroke-width="0.8"/>
<rect x="40.90" y="238.00" width="1.8" height="1.8" fill="#a02894" transform="rotate(45 41.80 238.90)"/>
<text transform="translate(46.60,241.20) scale(0.87,1)" font-size="6.5" fill="#2a2a2a">U266-EV</text>
<line x1="38.2" y1="245.2" x2="45.4" y2="245.2" stroke="#88e4e4" stroke-width="0.8"/>
<rect x="40.90" y="244.30" width="1.8" height="1.8" fill="#58c4c4" transform="rotate(45 41.80 245.20)"/>
<text transform="translate(46.60,247.50) scale(0.87,1)" font-size="6.5" fill="#2a2a2a">U266-JUN<tspan font-size="4.2" dy="-2.4">H</tspan></text>
<path d="M73.7 259.5V263.5M72.9 259.5h1.6M72.9 263.5h1.6" stroke="#555" stroke-width="0.7" fill="none"/>
<line x1="165.1" y1="228.90" x2="252" y2="228.90" stroke="#929292" stroke-width="1.1"/>
<line x1="165.1" y1="237.52" x2="252" y2="237.52" stroke="#929292" stroke-width="1.1"/>
<line x1="165.1" y1="246.13" x2="252" y2="246.13" stroke="#929292" stroke-width="1.1"/>
<line x1="165.1" y1="254.75" x2="252" y2="254.75" stroke="#929292" stroke-width="1.1"/>
<line x1="165.1" y1="263.37" x2="252" y2="263.37" stroke="#929292" stroke-width="1.1"/>
<line x1="165.1" y1="271.98" x2="252" y2="271.98" stroke="#929292" stroke-width="1.1"/>
<line x1="165.1" y1="228.90" x2="165.1" y2="281.10" stroke="#929292" stroke-width="1.1"/>
<line x1="164.6" y1="280.60" x2="252" y2="280.60" stroke="#929292" stroke-width="1.1"/>
<line x1="163.1" y1="228.90" x2="165.1" y2="228.90" stroke="#929292" stroke-width="0.9"/>
<text transform="translate(160.60,231.10) scale(0.87,1)" font-size="6.3" text-anchor="end" fill="#222">120</text>
<line x1="163.1" y1="237.52" x2="165.1" y2="237.52" stroke="#929292" stroke-width="0.9"/>
<text transform="translate(160.60,239.72) scale(0.87,1)" font-size="6.3" text-anchor="end" fill="#222">100</text>
<line x1="163.1" y1="246.13" x2="165.1" y2="246.13" stroke="#929292" stroke-width="0.9"/>
<text transform="translate(160.60,248.33) scale(0.87,1)" font-size="6.3" text-anchor="end" fill="#222">80</text>
<line x1="163.1" y1="254.75" x2="165.1" y2="254.75" stroke="#929292" stroke-width="0.9"/>
<text transform="translate(160.60,256.95) scale(0.87,1)" font-size="6.3" text-anchor="end" fill="#222">60</text>
<line x1="163.1" y1="263.37" x2="165.1" y2="263.37" stroke="#929292" stroke-width="0.9"/>
<text transform="translate(160.60,265.57) scale(0.87,1)" font-size="6.3" text-anchor="end" fill="#222">40</text>
<line x1="163.1" y1="271.98" x2="165.1" y2="271.98" stroke="#929292" stroke-width="0.9"/>
<text transform="translate(160.60,274.18) scale(0.87,1)" font-size="6.3" text-anchor="end" fill="#222">20</text>
<line x1="163.1" y1="280.60" x2="165.1" y2="280.60" stroke="#929292" stroke-width="0.9"/>
<text transform="translate(160.60,282.80) scale(0.87,1)" font-size="6.3" text-anchor="end" fill="#222">0</text>
<line x1="165.10" y1="280.60" x2="165.10" y2="282.60" stroke="#929292" stroke-width="0.9"/>
<line x1="179.58" y1="280.60" x2="179.58" y2="282.60" stroke="#929292" stroke-width="0.9"/>
<line x1="194.07" y1="280.60" x2="194.07" y2="282.60" stroke="#929292" stroke-width="0.9"/>
<line x1="208.55" y1="280.60" x2="208.55" y2="282.60" stroke="#929292" stroke-width="0.9"/>
<line x1="223.03" y1="280.60" x2="223.03" y2="282.60" stroke="#929292" stroke-width="0.9"/>
<line x1="237.52" y1="280.60" x2="237.52" y2="282.60" stroke="#929292" stroke-width="0.9"/>
<line x1="252.00" y1="280.60" x2="252.00" y2="282.60" stroke="#929292" stroke-width="0.9"/>
<text transform="translate(172.34,292.75) scale(0.87,1)" font-size="6.3" text-anchor="middle" fill="#222">1</text>
<text transform="translate(186.82,292.75) scale(0.87,1)" font-size="6.3" text-anchor="middle" fill="#222">2</text>
<text transform="translate(201.31,292.75) scale(0.87,1)" font-size="6.3" text-anchor="middle" fill="#222">3</text>
<text transform="translate(215.79,292.75) scale(0.87,1)" font-size="6.3" text-anchor="middle" fill="#222">4</text>
<text transform="translate(230.28,292.75) scale(0.87,1)" font-size="6.3" text-anchor="middle" fill="#222">5</text>
<text transform="translate(244.76,292.75) scale(0.87,1)" font-size="6.3" text-anchor="middle" fill="#222">6</text>
<text transform="translate(209.30,303.10) scale(0.87,1)" font-size="6.6" font-weight="bold" text-anchor="middle" fill="#000">Days</text>
<text transform="translate(149.10,253.50) rotate(-90)" font-size="6.4" font-weight="bold" text-anchor="middle" fill="#000" stroke="#000" stroke-width="0.15" textLength="51.6" lengthAdjust="spacingAndGlyphs">Cell viability(%)</text>
<polyline points="172.34,237.95 186.82,239.41 201.31,238.81 215.79,238.81 230.28,240.10 244.76,241.39" fill="none" stroke="#40409a" stroke-width="0.85"/>
<rect x="171.39" y="237.00" width="1.9" height="1.9" fill="#1c1c64" transform="rotate(45 172.34 237.95)"/>
<rect x="185.88" y="238.46" width="1.9" height="1.9" fill="#1c1c64" transform="rotate(45 186.82 239.41)"/>
<rect x="200.36" y="237.86" width="1.9" height="1.9" fill="#1c1c64" transform="rotate(45 201.31 238.81)"/>
<rect x="214.84" y="237.86" width="1.9" height="1.9" fill="#1c1c64" transform="rotate(45 215.79 238.81)"/>
<rect x="229.33" y="239.15" width="1.9" height="1.9" fill="#1c1c64" transform="rotate(45 230.28 240.10)"/>
<rect x="243.81" y="240.44" width="1.9" height="1.9" fill="#1c1c64" transform="rotate(45 244.76 241.39)"/>
<polyline points="172.34,238.38 186.82,239.67 201.31,239.24 215.79,239.24 230.28,240.53 244.76,242.26" fill="none" stroke="#d048d0" stroke-width="0.85"/>
<rect x="171.39" y="237.43" width="1.9" height="1.9" fill="#a02894" transform="rotate(45 172.34 238.38)"/>
<rect x="185.88" y="238.72" width="1.9" height="1.9" fill="#a02894" transform="rotate(45 186.82 239.67)"/>
<rect x="200.36" y="238.29" width="1.9" height="1.9" fill="#a02894" transform="rotate(45 201.31 239.24)"/>
<rect x="214.84" y="238.29" width="1.9" height="1.9" fill="#a02894" transform="rotate(45 215.79 239.24)"/>
<rect x="229.33" y="239.58" width="1.9" height="1.9" fill="#a02894" transform="rotate(45 230.28 240.53)"/>
<rect x="243.81" y="241.31" width="1.9" height="1.9" fill="#a02894" transform="rotate(45 244.76 242.26)"/>
<polyline points="172.34,237.95 186.82,245.70 201.31,250.44 215.79,259.66 230.28,269.05 244.76,275.86" fill="none" stroke="#88e4e4" stroke-width="1.35"/>
<rect x="171.39" y="237.00" width="1.9" height="1.9" fill="#58c4c4" transform="rotate(45 172.34 237.95)"/>
<rect x="185.88" y="244.75" width="1.9" height="1.9" fill="#58c4c4" transform="rotate(45 186.82 245.70)"/>
<rect x="200.36" y="249.49" width="1.9" height="1.9" fill="#58c4c4" transform="rotate(45 201.31 250.44)"/>
<rect x="214.84" y="258.71" width="1.9" height="1.9" fill="#58c4c4" transform="rotate(45 215.79 259.66)"/>
<rect x="229.33" y="268.10" width="1.9" height="1.9" fill="#58c4c4" transform="rotate(45 230.28 269.05)"/>
<rect x="243.81" y="274.91" width="1.9" height="1.9" fill="#58c4c4" transform="rotate(45 244.76 275.86)"/>
<path d="M244.76 243.12V240.10M243.76 243.12h2M243.76 240.10h2" stroke="#1c1c64" stroke-width="0.7" fill="none"/>
<rect x="166" y="258" width="44.50" height="22.20" fill="#fff" stroke="#7a7a7a" stroke-width="0.9"/>
<line x1="172" y1="263" x2="179.5" y2="263" stroke="#40409a" stroke-width="0.8"/>
<rect x="174.85" y="262.10" width="1.8" height="1.8" fill="#1c1c64" transform="rotate(45 175.75 263.00)"/>
<text transform="translate(180.60,265.30) scale(0.87,1)" font-size="6.5" fill="#2a2a2a">U266</text>
<line x1="172" y1="269" x2="179.5" y2="269" stroke="#d048d0" stroke-width="0.8"/>
<rect x="174.85" y="268.10" width="1.8" height="1.8" fill="#a02894" transform="rotate(45 175.75 269.00)"/>
<text transform="translate(180.60,271.30) scale(0.87,1)" font-size="6.5" fill="#2a2a2a">U266-EV</text>
<line x1="172" y1="275" x2="179.5" y2="275" stroke="#88e4e4" stroke-width="0.8"/>
<rect x="174.85" y="274.10" width="1.8" height="1.8" fill="#58c4c4" transform="rotate(45 175.75 275.00)"/>
<text transform="translate(180.60,277.30) scale(0.87,1)" font-size="6.5" fill="#2a2a2a">U266-JUN<tspan font-size="4.2" dy="-2.4">H</tspan></text>
<polygon points="296.50,98.80 296.70,95.40 297.17,95.04 297.64,94.66 298.11,95.23 298.59,94.29 299.06,94.81 299.53,94.44 300.00,94.50 300.45,93.79 300.91,94.33 301.36,93.58 301.82,94.04 302.27,93.44 302.73,93.38 303.18,93.76 303.64,94.23 304.09,93.16 304.55,93.20 305.00,93.50 305.50,93.80 306.00,94.38 306.50,93.98 307.00,93.86 307.50,94.79 308.00,93.62 308.50,94.88 309.00,94.50 309.60,92.96 310.20,92.00 310.70,76.00 311.20,56.00 311.90,45.00 312.60,41.60 313.30,45.00 314.00,58.00 314.60,75.00 315.10,86.00 315.70,89.00 316.16,88.64 316.62,88.74 317.08,89.15 317.54,90.00 318.00,89.70 318.50,89.35 319.00,90.01 319.50,90.19 320.00,89.92 320.50,90.27 321.00,89.69 321.50,89.78 322.00,90.50 322.50,90.28 323.00,91.13 323.50,90.96 324.00,90.99 324.50,91.56 325.00,91.56 325.50,91.53 326.00,92.00 326.45,91.84 326.90,91.13 327.35,89.92 327.80,89.70 328.33,88.24 328.87,86.60 329.40,85.00 329.85,86.48 330.30,86.90 331.20,93.50 331.67,94.75 332.13,95.09 332.60,96.30 333.08,96.98 333.55,96.49 334.02,96.99 334.50,97.30 334.97,97.47 335.44,97.11 335.91,97.33 336.38,97.07 336.84,97.46 337.31,97.53 337.78,97.43 338.25,97.62 338.72,97.30 339.19,97.54 339.66,97.49 340.12,97.50 340.59,97.44 341.06,97.67 341.53,97.74 342.00,97.50 342.45,97.50 342.90,97.62 343.35,97.30 343.80,97.66 344.25,97.64 344.70,97.84 345.15,97.76 345.60,97.49 346.05,97.55 346.50,97.71 346.95,97.39 347.40,97.63 347.85,97.50 348.30,97.48 348.75,97.47 349.20,97.83 349.65,97.53 350.10,97.60 350.55,97.69 351.00,97.93 351.45,97.57 351.90,97.75 352.35,97.81 352.80,97.97 353.25,97.96 353.70,97.99 354.15,97.74 354.60,97.81 355.05,97.80 355.50,98.04 355.95,98.08 356.40,97.90 356.85,97.91 357.30,97.92 357.75,97.94 358.20,97.95 358.65,97.96 359.10,97.97 359.55,97.99 360.00,98.00 360.45,98.00 360.91,98.01 361.36,98.01 361.82,98.02 362.27,98.02 362.73,98.03 363.18,98.03 363.64,98.04 364.09,98.04 364.55,98.05 365.00,98.05 365.45,98.05 365.91,98.06 366.36,98.06 366.82,98.07 367.27,98.07 367.73,98.08 368.18,98.08 368.64,98.09 369.09,98.09 369.55,98.10 370.00,98.10 370.45,98.10 370.91,98.11 371.36,98.11 371.82,98.12 372.27,98.12 372.73,98.13 373.18,98.13 373.64,98.14 374.09,98.14 374.55,98.15 375.00,98.15 375.45,98.15 375.91,98.16 376.36,98.16 376.82,98.17 377.27,98.17 377.73,98.18 378.18,98.18 378.64,98.19 379.09,98.19 379.55,98.20 380.00,98.20 380.45,98.20 380.91,98.21 381.36,98.21 381.82,98.22 382.27,98.22 382.73,98.23 383.18,98.23 383.64,98.24 384.09,98.24 384.55,98.25 385.00,98.25 385.45,98.25 385.91,98.26 386.36,98.26 386.82,98.27 387.27,98.27 387.73,98.28 388.18,98.28 388.64,98.29 389.09,98.29 389.55,98.30 390.00,98.30 390.00,99.10 296.50,99.10" fill="#000"/>
<line x1="292.5" y1="18.5" x2="391.00" y2="18.5" stroke="#555" stroke-width="1.2"/>
<line x1="390.4" y1="18.5" x2="390.4" y2="99.1" stroke="#555" stroke-width="1.2"/>
<line x1="292.5" y1="18.5" x2="292.5" y2="99.1" stroke="#222" stroke-width="1"/>
<line x1="292.5" y1="99.1" x2="390.4" y2="99.1" stroke="#222" stroke-width="1"/>
<line x1="289.90" y1="99.10" x2="292.5" y2="99.10" stroke="#333" stroke-width="0.8"/>
<line x1="290.90" y1="95.07" x2="292.5" y2="95.07" stroke="#333" stroke-width="0.8"/>
<line x1="290.90" y1="91.04" x2="292.5" y2="91.04" stroke="#333" stroke-width="0.8"/>
<line x1="290.90" y1="87.01" x2="292.5" y2="87.01" stroke="#333" stroke-width="0.8"/>
<line x1="289.90" y1="82.98" x2="292.5" y2="82.98" stroke="#333" stroke-width="0.8"/>
<line x1="290.90" y1="78.95" x2="292.5" y2="78.95" stroke="#333" stroke-width="0.8"/>
<line x1="290.90" y1="74.92" x2="292.5" y2="74.92" stroke="#333" stroke-width="0.8"/>
<line x1="290.90" y1="70.89" x2="292.5" y2="70.89" stroke="#333" stroke-width="0.8"/>
<line x1="289.90" y1="66.86" x2="292.5" y2="66.86" stroke="#333" stroke-width="0.8"/>
<line x1="290.90" y1="62.83" x2="292.5" y2="62.83" stroke="#333" stroke-width="0.8"/>
<line x1="290.90" y1="58.80" x2="292.5" y2="58.80" stroke="#333" stroke-width="0.8"/>
<line x1="290.90" y1="54.77" x2="292.5" y2="54.77" stroke="#333" stroke-width="0.8"/>
<line x1="289.90" y1="50.74" x2="292.5" y2="50.74" stroke="#333" stroke-width="0.8"/>
<line x1="290.90" y1="46.71" x2="292.5" y2="46.71" stroke="#333" stroke-width="0.8"/>
<line x1="290.90" y1="42.68" x2="292.5" y2="42.68" stroke="#333" stroke-width="0.8"/>
<line x1="290.90" y1="38.65" x2="292.5" y2="38.65" stroke="#333" stroke-width="0.8"/>
<line x1="289.90" y1="34.62" x2="292.5" y2="34.62" stroke="#333" stroke-width="0.8"/>
<line x1="290.90" y1="30.59" x2="292.5" y2="30.59" stroke="#333" stroke-width="0.8"/>
<line x1="290.90" y1="26.56" x2="292.5" y2="26.56" stroke="#333" stroke-width="0.8"/>
<line x1="290.90" y1="22.53" x2="292.5" y2="22.53" stroke="#333" stroke-width="0.8"/>
<line x1="289.90" y1="18.50" x2="292.5" y2="18.50" stroke="#333" stroke-width="0.8"/>
<text transform="translate(287.90,99.10) rotate(-90)" font-size="5.0" font-weight="bold" text-anchor="middle" fill="#333">0</text>
<text transform="translate(287.90,82.98) rotate(-90)" font-size="5.0" font-weight="bold" text-anchor="middle" fill="#333">40</text>
<text transform="translate(287.90,66.86) rotate(-90)" font-size="5.0" font-weight="bold" text-anchor="middle" fill="#333">80</text>
<text transform="translate(287.90,50.74) rotate(-90)" font-size="5.0" font-weight="bold" text-anchor="middle" fill="#333">120</text>
<text transform="translate(287.90,34.62) rotate(-90)" font-size="5.0" font-weight="bold" text-anchor="middle" fill="#333">160</text>
<text transform="translate(287.90,18.50) rotate(-90)" font-size="5.0" font-weight="bold" text-anchor="middle" fill="#333">200</text>
<text transform="translate(281.30,58.80) rotate(-90)" font-size="4.8" font-weight="bold" text-anchor="middle" fill="#444">Counts</text>
<line x1="292.50" y1="99.1" x2="292.50" y2="101.70" stroke="#333" stroke-width="0.8"/>
<line x1="297.28" y1="99.1" x2="297.28" y2="100.70" stroke="#333" stroke-width="0.8"/>
<line x1="302.06" y1="99.1" x2="302.06" y2="100.70" stroke="#333" stroke-width="0.8"/>
<line x1="306.84" y1="99.1" x2="306.84" y2="100.70" stroke="#333" stroke-width="0.8"/>
<line x1="311.62" y1="99.1" x2="311.62" y2="101.70" stroke="#333" stroke-width="0.8"/>
<line x1="316.40" y1="99.1" x2="316.40" y2="100.70" stroke="#333" stroke-width="0.8"/>
<line x1="321.18" y1="99.1" x2="321.18" y2="100.70" stroke="#333" stroke-width="0.8"/>
<line x1="325.96" y1="99.1" x2="325.96" y2="100.70" stroke="#333" stroke-width="0.8"/>
<line x1="330.74" y1="99.1" x2="330.74" y2="101.70" stroke="#333" stroke-width="0.8"/>
<line x1="335.52" y1="99.1" x2="335.52" y2="100.70" stroke="#333" stroke-width="0.8"/>
<line x1="340.30" y1="99.1" x2="340.30" y2="100.70" stroke="#333" stroke-width="0.8"/>
<line x1="345.08" y1="99.1" x2="345.08" y2="100.70" stroke="#333" stroke-width="0.8"/>
<line x1="349.86" y1="99.1" x2="349.86" y2="101.70" stroke="#333" stroke-width="0.8"/>
<line x1="354.64" y1="99.1" x2="354.64" y2="100.70" stroke="#333" stroke-width="0.8"/>
<line x1="359.42" y1="99.1" x2="359.42" y2="100.70" stroke="#333" stroke-width="0.8"/>
<line x1="364.20" y1="99.1" x2="364.20" y2="100.70" stroke="#333" stroke-width="0.8"/>
<line x1="368.98" y1="99.1" x2="368.98" y2="101.70" stroke="#333" stroke-width="0.8"/>
<line x1="373.76" y1="99.1" x2="373.76" y2="100.70" stroke="#333" stroke-width="0.8"/>
<line x1="378.54" y1="99.1" x2="378.54" y2="100.70" stroke="#333" stroke-width="0.8"/>
<line x1="383.33" y1="99.1" x2="383.33" y2="100.70" stroke="#333" stroke-width="0.8"/>
<line x1="388.11" y1="99.1" x2="388.11" y2="101.70" stroke="#333" stroke-width="0.8"/>
<text x="292.50" y="106.10" font-size="5.0" font-weight="bold" text-anchor="middle" fill="#333">0</text>
<text x="311.62" y="106.10" font-size="5.0" font-weight="bold" text-anchor="middle" fill="#333">200</text>
<text x="330.74" y="106.10" font-size="5.0" font-weight="bold" text-anchor="middle" fill="#333">400</text>
<text x="349.86" y="106.10" font-size="5.0" font-weight="bold" text-anchor="middle" fill="#333">600</text>
<text x="368.98" y="106.10" font-size="5.0" font-weight="bold" text-anchor="middle" fill="#333">800</text>
<text x="388.11" y="106.10" font-size="5.0" font-weight="bold" text-anchor="middle" fill="#333">1000</text>
<text x="341.45" y="111.90" font-size="5.1" font-weight="bold" text-anchor="middle" fill="#333">FL3-H</text>
<text x="306.30" y="10.50" font-size="10.8" text-anchor="start" fill="#000" textLength="64.30" lengthAdjust="spacingAndGlyphs" stroke="#000" stroke-width="0.3">OCI-My5-EV</text>
<polygon points="417.90,99.00 418.40,76.70 419.20,75.80 419.80,84.00 420.30,82.66 420.80,82.30 421.35,79.85 421.90,78.30 422.47,76.29 423.03,74.66 423.60,73.40 424.15,71.78 424.70,70.20 425.35,72.32 426.00,74.20 426.53,75.77 427.07,77.31 427.60,79.90 428.13,81.42 428.67,82.98 429.20,84.80 429.85,86.49 430.50,88.00 431.10,87.83 431.70,86.40 432.50,64.50 433.30,56.70 434.10,60.40 434.60,77.50 435.40,90.50 435.95,92.37 436.50,93.70 437.00,93.91 437.50,94.24 438.00,94.50 438.50,93.82 439.00,95.19 439.50,95.21 440.00,95.00 440.45,95.57 440.91,95.51 441.36,94.99 441.82,95.04 442.27,94.67 442.73,95.46 443.18,94.71 443.64,94.76 444.09,95.00 444.55,94.98 445.00,95.50 445.50,95.21 446.00,94.75 446.50,94.61 447.00,94.76 447.50,94.63 448.00,94.93 448.50,94.40 449.00,95.00 449.50,95.12 450.00,94.36 450.50,93.31 451.00,93.40 451.50,93.59 452.00,94.25 452.50,95.00 453.05,95.83 453.60,97.00 454.08,96.75 454.55,97.43 455.03,97.61 455.51,97.26 455.98,97.34 456.46,97.12 456.94,97.21 457.41,97.46 457.89,97.48 458.36,97.91 458.84,97.57 459.32,97.57 459.79,98.17 460.27,98.00 460.75,97.88 461.22,98.15 461.70,98.20 462.15,97.99 462.60,98.22 463.06,98.43 463.51,98.38 463.96,98.31 464.41,98.12 464.87,98.17 465.32,98.08 465.77,98.35 466.22,98.25 466.68,98.36 467.13,98.17 467.58,98.13 468.03,98.39 468.48,98.47 468.94,98.41 469.39,98.39 469.84,98.40 470.29,98.37 470.75,98.16 471.20,98.28 471.65,98.22 472.10,98.08 472.56,98.09 473.01,98.20 473.46,98.19 473.91,98.38 474.36,98.30 474.82,98.31 475.27,98.31 475.72,98.31 476.17,98.32 476.63,98.32 477.08,98.32 477.53,98.33 477.98,98.33 478.43,98.34 478.89,98.34 479.34,98.34 479.79,98.35 480.24,98.35 480.70,98.35 481.15,98.36 481.60,98.36 482.05,98.37 482.51,98.37 482.96,98.37 483.41,98.38 483.86,98.38 484.31,98.38 484.77,98.39 485.22,98.39 485.67,98.39 486.12,98.40 486.58,98.40 487.03,98.41 487.48,98.41 487.93,98.41 488.39,98.42 488.84,98.42 489.29,98.42 489.74,98.43 490.19,98.43 490.65,98.43 491.10,98.44 491.55,98.44 492.00,98.45 492.46,98.45 492.91,98.45 493.36,98.46 493.81,98.46 494.27,98.46 494.72,98.47 495.17,98.47 495.62,98.48 496.07,98.48 496.53,98.48 496.98,98.49 497.43,98.49 497.88,98.49 498.34,98.50 498.79,98.50 499.24,98.50 499.69,98.51 500.14,98.51 500.60,98.52 501.05,98.52 501.50,98.52 501.95,98.53 502.41,98.53 502.86,98.53 503.31,98.54 503.76,98.54 504.22,98.54 504.67,98.55 505.12,98.55 505.57,98.56 506.02,98.56 506.48,98.56 506.93,98.57 507.38,98.57 507.83,98.57 508.29,98.58 508.74,98.58 509.19,98.59 509.64,98.59 510.10,98.59 510.55,98.60 511.00,98.60 511.00,99.50 417.90,99.50" fill="#000"/>
<line x1="413.2" y1="17.2" x2="511.70" y2="17.2" stroke="#555" stroke-width="1.2"/>
<line x1="511.1" y1="17.2" x2="511.1" y2="99.5" stroke="#555" stroke-width="1.2"/>
<line x1="413.2" y1="17.2" x2="413.2" y2="99.5" stroke="#222" stroke-width="1"/>
<line x1="413.2" y1="99.5" x2="511.1" y2="99.5" stroke="#222" stroke-width="1"/>
<line x1="410.60" y1="99.50" x2="413.2" y2="99.50" stroke="#333" stroke-width="0.8"/>
<line x1="411.60" y1="95.39" x2="413.2" y2="95.39" stroke="#333" stroke-width="0.8"/>
<line x1="411.60" y1="91.27" x2="413.2" y2="91.27" stroke="#333" stroke-width="0.8"/>
<line x1="411.60" y1="87.16" x2="413.2" y2="87.16" stroke="#333" stroke-width="0.8"/>
<line x1="410.60" y1="83.04" x2="413.2" y2="83.04" stroke="#333" stroke-width="0.8"/>
<line x1="411.60" y1="78.92" x2="413.2" y2="78.92" stroke="#333" stroke-width="0.8"/>
<line x1="411.60" y1="74.81" x2="413.2" y2="74.81" stroke="#333" stroke-width="0.8"/>
<line x1="411.60" y1="70.69" x2="413.2" y2="70.69" stroke="#333" stroke-width="0.8"/>
<line x1="410.60" y1="66.58" x2="413.2" y2="66.58" stroke="#333" stroke-width="0.8"/>
<line x1="411.60" y1="62.47" x2="413.2" y2="62.47" stroke="#333" stroke-width="0.8"/>
<line x1="411.60" y1="58.35" x2="413.2" y2="58.35" stroke="#333" stroke-width="0.8"/>
<line x1="411.60" y1="54.23" x2="413.2" y2="54.23" stroke="#333" stroke-width="0.8"/>
<line x1="410.60" y1="50.12" x2="413.2" y2="50.12" stroke="#333" stroke-width="0.8"/>
<line x1="411.60" y1="46.01" x2="413.2" y2="46.01" stroke="#333" stroke-width="0.8"/>
<line x1="411.60" y1="41.89" x2="413.2" y2="41.89" stroke="#333" stroke-width="0.8"/>
<line x1="411.60" y1="37.77" x2="413.2" y2="37.77" stroke="#333" stroke-width="0.8"/>
<line x1="410.60" y1="33.66" x2="413.2" y2="33.66" stroke="#333" stroke-width="0.8"/>
<line x1="411.60" y1="29.55" x2="413.2" y2="29.55" stroke="#333" stroke-width="0.8"/>
<line x1="411.60" y1="25.43" x2="413.2" y2="25.43" stroke="#333" stroke-width="0.8"/>
<line x1="411.60" y1="21.31" x2="413.2" y2="21.31" stroke="#333" stroke-width="0.8"/>
<line x1="410.60" y1="17.20" x2="413.2" y2="17.20" stroke="#333" stroke-width="0.8"/>
<text transform="translate(408.60,99.50) rotate(-90)" font-size="5.0" font-weight="bold" text-anchor="middle" fill="#333">0</text>
<text transform="translate(408.60,83.04) rotate(-90)" font-size="5.0" font-weight="bold" text-anchor="middle" fill="#333">40</text>
<text transform="translate(408.60,66.58) rotate(-90)" font-size="5.0" font-weight="bold" text-anchor="middle" fill="#333">80</text>
<text transform="translate(408.60,50.12) rotate(-90)" font-size="5.0" font-weight="bold" text-anchor="middle" fill="#333">120</text>
<text transform="translate(408.60,33.66) rotate(-90)" font-size="5.0" font-weight="bold" text-anchor="middle" fill="#333">160</text>
<text transform="translate(408.60,17.20) rotate(-90)" font-size="5.0" font-weight="bold" text-anchor="middle" fill="#333">200</text>
<text transform="translate(402.00,58.35) rotate(-90)" font-size="4.8" font-weight="bold" text-anchor="middle" fill="#444">Counts</text>
<line x1="413.20" y1="99.5" x2="413.20" y2="102.10" stroke="#333" stroke-width="0.8"/>
<line x1="417.98" y1="99.5" x2="417.98" y2="101.10" stroke="#333" stroke-width="0.8"/>
<line x1="422.76" y1="99.5" x2="422.76" y2="101.10" stroke="#333" stroke-width="0.8"/>
<line x1="427.54" y1="99.5" x2="427.54" y2="101.10" stroke="#333" stroke-width="0.8"/>
<line x1="432.32" y1="99.5" x2="432.32" y2="102.10" stroke="#333" stroke-width="0.8"/>
<line x1="437.10" y1="99.5" x2="437.10" y2="101.10" stroke="#333" stroke-width="0.8"/>
<line x1="441.88" y1="99.5" x2="441.88" y2="101.10" stroke="#333" stroke-width="0.8"/>
<line x1="446.66" y1="99.5" x2="446.66" y2="101.10" stroke="#333" stroke-width="0.8"/>
<line x1="451.44" y1="99.5" x2="451.44" y2="102.10" stroke="#333" stroke-width="0.8"/>
<line x1="456.22" y1="99.5" x2="456.22" y2="101.10" stroke="#333" stroke-width="0.8"/>
<line x1="461.00" y1="99.5" x2="461.00" y2="101.10" stroke="#333" stroke-width="0.8"/>
<line x1="465.78" y1="99.5" x2="465.78" y2="101.10" stroke="#333" stroke-width="0.8"/>
<line x1="470.56" y1="99.5" x2="470.56" y2="102.10" stroke="#333" stroke-width="0.8"/>
<line x1="475.34" y1="99.5" x2="475.34" y2="101.10" stroke="#333" stroke-width="0.8"/>
<line x1="480.12" y1="99.5" x2="480.12" y2="101.10" stroke="#333" stroke-width="0.8"/>
<line x1="484.90" y1="99.5" x2="484.90" y2="101.10" stroke="#333" stroke-width="0.8"/>
<line x1="489.68" y1="99.5" x2="489.68" y2="102.10" stroke="#333" stroke-width="0.8"/>
<line x1="494.46" y1="99.5" x2="494.46" y2="101.10" stroke="#333" stroke-width="0.8"/>
<line x1="499.24" y1="99.5" x2="499.24" y2="101.10" stroke="#333" stroke-width="0.8"/>
<line x1="504.03" y1="99.5" x2="504.03" y2="101.10" stroke="#333" stroke-width="0.8"/>
<line x1="508.81" y1="99.5" x2="508.81" y2="102.10" stroke="#333" stroke-width="0.8"/>
<text x="413.20" y="106.50" font-size="5.0" font-weight="bold" text-anchor="middle" fill="#333">0</text>
<text x="432.32" y="106.50" font-size="5.0" font-weight="bold" text-anchor="middle" fill="#333">200</text>
<text x="451.44" y="106.50" font-size="5.0" font-weight="bold" text-anchor="middle" fill="#333">400</text>
<text x="470.56" y="106.50" font-size="5.0" font-weight="bold" text-anchor="middle" fill="#333">600</text>
<text x="489.68" y="106.50" font-size="5.0" font-weight="bold" text-anchor="middle" fill="#333">800</text>
<text x="508.81" y="106.50" font-size="5.0" font-weight="bold" text-anchor="middle" fill="#333">1000</text>
<text x="462.15" y="112.30" font-size="5.1" font-weight="bold" text-anchor="middle" fill="#333">FL3-H</text>
<text x="427.40" y="10.50" font-size="10.8" text-anchor="start" fill="#000" textLength="70.80" lengthAdjust="spacingAndGlyphs" stroke="#000" stroke-width="0.3">OCI-My5-JUN</text>
<text x="498.70" y="6.50" font-size="7.3" text-anchor="start" fill="#555" >H</text>
<polygon points="298.80,218.40 299.33,217.70 299.87,217.22 300.40,216.30 300.85,216.27 301.30,216.64 301.75,216.68 302.20,216.66 302.65,216.25 303.10,216.15 303.55,216.17 304.00,216.16 304.45,216.17 304.90,216.48 305.35,216.68 305.80,216.65 306.25,216.40 306.70,216.53 307.15,216.64 307.60,216.16 308.05,216.56 308.50,216.74 308.95,216.66 309.40,216.65 309.85,216.48 310.30,216.50 310.80,214.06 311.30,212.50 312.20,202.90 312.70,193.70 313.20,183.70 313.70,174.87 314.20,166.50 314.90,163.60 315.70,170.30 316.50,193.30 317.05,199.02 317.60,203.90 318.06,204.94 318.52,204.51 318.98,204.90 319.44,206.05 319.90,205.80 320.38,206.28 320.85,205.66 321.32,205.77 321.80,205.96 322.27,207.18 322.75,207.20 323.22,206.44 323.70,207.10 324.18,207.34 324.67,207.34 325.15,206.67 325.63,206.02 326.12,206.08 326.60,205.80 327.10,204.32 327.60,203.20 328.10,203.58 328.60,202.17 329.10,201.00 329.58,199.59 330.05,198.71 330.52,196.56 331.00,195.20 331.47,195.42 331.93,195.06 332.40,194.30 332.85,195.80 333.30,198.10 333.77,201.25 334.23,204.81 334.70,208.60 335.25,211.59 335.80,215.30 336.45,216.07 337.10,216.70 337.56,216.59 338.03,216.71 338.49,216.58 338.96,217.04 339.42,216.77 339.89,216.85 340.35,216.95 340.82,217.14 341.28,216.92 341.75,217.20 342.21,217.02 342.68,217.07 343.14,217.09 343.61,216.89 344.07,217.11 344.54,217.03 345.00,217.20 345.45,217.20 345.90,217.21 346.35,217.21 346.80,217.22 347.25,217.22 347.71,217.22 348.16,217.23 348.61,217.23 349.06,217.24 349.51,217.24 349.96,217.24 350.41,217.25 350.86,217.25 351.31,217.25 351.76,217.26 352.22,217.26 352.67,217.27 353.12,217.27 353.57,217.27 354.02,217.28 354.47,217.28 354.92,217.29 355.37,217.29 355.82,217.29 356.27,217.30 356.73,217.30 357.18,217.31 357.63,217.31 358.08,217.31 358.53,217.32 358.98,217.32 359.43,217.33 359.88,217.33 360.33,217.33 360.78,217.34 361.24,217.34 361.69,217.35 362.14,217.35 362.59,217.35 363.04,217.36 363.49,217.36 363.94,217.36 364.39,217.37 364.84,217.37 365.29,217.38 365.75,217.38 366.20,217.38 366.65,217.39 367.10,217.39 367.55,217.40 368.00,217.40 368.45,217.40 368.90,217.41 369.35,217.41 369.80,217.42 370.25,217.42 370.71,217.42 371.16,217.43 371.61,217.43 372.06,217.44 372.51,217.44 372.96,217.44 373.41,217.45 373.86,217.45 374.31,217.45 374.76,217.46 375.22,217.46 375.67,217.47 376.12,217.47 376.57,217.47 377.02,217.48 377.47,217.48 377.92,217.49 378.37,217.49 378.82,217.49 379.27,217.50 379.73,217.50 380.18,217.51 380.63,217.51 381.08,217.51 381.53,217.52 381.98,217.52 382.43,217.53 382.88,217.53 383.33,217.53 383.78,217.54 384.24,217.54 384.69,217.55 385.14,217.55 385.59,217.55 386.04,217.56 386.49,217.56 386.94,217.56 387.39,217.57 387.84,217.57 388.29,217.58 388.75,217.58 389.20,217.58 389.65,217.59 390.10,217.59 390.55,217.60 391.00,217.60 391.00,218.40 298.80,218.40" fill="#000"/>
<line x1="295.3" y1="136.5" x2="392.10" y2="136.5" stroke="#555" stroke-width="1.2"/>
<line x1="391.5" y1="136.5" x2="391.5" y2="218.4" stroke="#c4c4c4" stroke-width="0.8"/>
<line x1="295.3" y1="136.5" x2="295.3" y2="218.4" stroke="#222" stroke-width="1"/>
<line x1="295.3" y1="218.4" x2="391.5" y2="218.4" stroke="#222" stroke-width="1"/>
<line x1="292.70" y1="218.40" x2="295.3" y2="218.40" stroke="#333" stroke-width="0.8"/>
<line x1="293.70" y1="214.31" x2="295.3" y2="214.31" stroke="#333" stroke-width="0.8"/>
<line x1="293.70" y1="210.21" x2="295.3" y2="210.21" stroke="#333" stroke-width="0.8"/>
<line x1="293.70" y1="206.12" x2="295.3" y2="206.12" stroke="#333" stroke-width="0.8"/>
<line x1="292.70" y1="202.02" x2="295.3" y2="202.02" stroke="#333" stroke-width="0.8"/>
<line x1="293.70" y1="197.93" x2="295.3" y2="197.93" stroke="#333" stroke-width="0.8"/>
<line x1="293.70" y1="193.83" x2="295.3" y2="193.83" stroke="#333" stroke-width="0.8"/>
<line x1="293.70" y1="189.74" x2="295.3" y2="189.74" stroke="#333" stroke-width="0.8"/>
<line x1="292.70" y1="185.64" x2="295.3" y2="185.64" stroke="#333" stroke-width="0.8"/>
<line x1="293.70" y1="181.55" x2="295.3" y2="181.55" stroke="#333" stroke-width="0.8"/>
<line x1="293.70" y1="177.45" x2="295.3" y2="177.45" stroke="#333" stroke-width="0.8"/>
<line x1="293.70" y1="173.36" x2="295.3" y2="173.36" stroke="#333" stroke-width="0.8"/>
<line x1="292.70" y1="169.26" x2="295.3" y2="169.26" stroke="#333" stroke-width="0.8"/>
<line x1="293.70" y1="165.17" x2="295.3" y2="165.17" stroke="#333" stroke-width="0.8"/>
<line x1="293.70" y1="161.07" x2="295.3" y2="161.07" stroke="#333" stroke-width="0.8"/>
<line x1="293.70" y1="156.98" x2="295.3" y2="156.98" stroke="#333" stroke-width="0.8"/>
<line x1="292.70" y1="152.88" x2="295.3" y2="152.88" stroke="#333" stroke-width="0.8"/>
<line x1="293.70" y1="148.78" x2="295.3" y2="148.78" stroke="#333" stroke-width="0.8"/>
<line x1="293.70" y1="144.69" x2="295.3" y2="144.69" stroke="#333" stroke-width="0.8"/>
<line x1="293.70" y1="140.59" x2="295.3" y2="140.59" stroke="#333" stroke-width="0.8"/>
<line x1="292.70" y1="136.50" x2="295.3" y2="136.50" stroke="#333" stroke-width="0.8"/>
<text transform="translate(290.70,218.40) rotate(-90)" font-size="5.0" font-weight="bold" text-anchor="middle" fill="#333">0</text>
<text transform="translate(290.70,202.02) rotate(-90)" font-size="5.0" font-weight="bold" text-anchor="middle" fill="#333">40</text>
<text transform="translate(290.70,185.64) rotate(-90)" font-size="5.0" font-weight="bold" text-anchor="middle" fill="#333">80</text>
<text transform="translate(290.70,169.26) rotate(-90)" font-size="5.0" font-weight="bold" text-anchor="middle" fill="#333">120</text>
<text transform="translate(290.70,152.88) rotate(-90)" font-size="5.0" font-weight="bold" text-anchor="middle" fill="#333">160</text>
<text transform="translate(290.70,136.50) rotate(-90)" font-size="5.0" font-weight="bold" text-anchor="middle" fill="#333">200</text>
<text transform="translate(284.10,177.45) rotate(-90)" font-size="4.8" font-weight="bold" text-anchor="middle" fill="#444">Counts</text>
<line x1="295.30" y1="218.4" x2="295.30" y2="221.00" stroke="#333" stroke-width="0.8"/>
<line x1="300.00" y1="218.4" x2="300.00" y2="220.00" stroke="#333" stroke-width="0.8"/>
<line x1="304.69" y1="218.4" x2="304.69" y2="220.00" stroke="#333" stroke-width="0.8"/>
<line x1="309.39" y1="218.4" x2="309.39" y2="220.00" stroke="#333" stroke-width="0.8"/>
<line x1="314.09" y1="218.4" x2="314.09" y2="221.00" stroke="#333" stroke-width="0.8"/>
<line x1="318.79" y1="218.4" x2="318.79" y2="220.00" stroke="#333" stroke-width="0.8"/>
<line x1="323.48" y1="218.4" x2="323.48" y2="220.00" stroke="#333" stroke-width="0.8"/>
<line x1="328.18" y1="218.4" x2="328.18" y2="220.00" stroke="#333" stroke-width="0.8"/>
<line x1="332.88" y1="218.4" x2="332.88" y2="221.00" stroke="#333" stroke-width="0.8"/>
<line x1="337.58" y1="218.4" x2="337.58" y2="220.00" stroke="#333" stroke-width="0.8"/>
<line x1="342.27" y1="218.4" x2="342.27" y2="220.00" stroke="#333" stroke-width="0.8"/>
<line x1="346.97" y1="218.4" x2="346.97" y2="220.00" stroke="#333" stroke-width="0.8"/>
<line x1="351.67" y1="218.4" x2="351.67" y2="221.00" stroke="#333" stroke-width="0.8"/>
<line x1="356.36" y1="218.4" x2="356.36" y2="220.00" stroke="#333" stroke-width="0.8"/>
<line x1="361.06" y1="218.4" x2="361.06" y2="220.00" stroke="#333" stroke-width="0.8"/>
<line x1="365.76" y1="218.4" x2="365.76" y2="220.00" stroke="#333" stroke-width="0.8"/>
<line x1="370.46" y1="218.4" x2="370.46" y2="221.00" stroke="#333" stroke-width="0.8"/>
<line x1="375.15" y1="218.4" x2="375.15" y2="220.00" stroke="#333" stroke-width="0.8"/>
<line x1="379.85" y1="218.4" x2="379.85" y2="220.00" stroke="#333" stroke-width="0.8"/>
<line x1="384.55" y1="218.4" x2="384.55" y2="220.00" stroke="#333" stroke-width="0.8"/>
<line x1="389.25" y1="218.4" x2="389.25" y2="221.00" stroke="#333" stroke-width="0.8"/>
<text x="295.30" y="225.40" font-size="5.0" font-weight="bold" text-anchor="middle" fill="#333">0</text>
<text x="314.09" y="225.40" font-size="5.0" font-weight="bold" text-anchor="middle" fill="#333">200</text>
<text x="332.88" y="225.40" font-size="5.0" font-weight="bold" text-anchor="middle" fill="#333">400</text>
<text x="351.67" y="225.40" font-size="5.0" font-weight="bold" text-anchor="middle" fill="#333">600</text>
<text x="370.46" y="225.40" font-size="5.0" font-weight="bold" text-anchor="middle" fill="#333">800</text>
<text x="389.25" y="225.40" font-size="5.0" font-weight="bold" text-anchor="middle" fill="#333">1000</text>
<text x="343.40" y="231.20" font-size="5.1" font-weight="bold" text-anchor="middle" fill="#333">FL3-H</text>
<text x="311.70" y="128.60" font-size="10.8" text-anchor="start" fill="#000" textLength="51.70" lengthAdjust="spacingAndGlyphs" stroke="#000" stroke-width="0.3">OPM2-EV</text>
<polygon points="421.30,217.70 422.20,185.20 422.90,205.10 423.60,209.50 424.20,209.21 424.80,210.30 425.32,210.66 425.84,209.72 426.36,210.08 426.88,210.38 427.40,210.00 427.89,210.08 428.38,209.76 428.87,210.03 429.36,210.08 429.84,210.40 430.33,209.45 430.82,210.08 431.31,209.65 431.80,210.00 432.40,207.69 433.00,206.00 433.47,202.61 433.93,198.48 434.40,194.70 435.00,186.14 435.60,177.40 436.10,174.71 436.60,171.30 437.50,177.40 438.40,194.70 439.00,199.63 439.60,203.40 440.17,204.75 440.73,206.42 441.30,207.70 441.87,207.91 442.43,208.12 443.00,208.30 443.52,208.29 444.04,207.67 444.56,207.51 445.08,207.15 445.60,206.90 446.14,207.44 446.68,207.02 447.22,207.19 447.76,207.20 448.30,206.50 448.82,205.72 449.34,205.70 449.86,205.80 450.38,205.22 450.90,204.30 451.47,202.93 452.03,202.04 452.60,201.70 453.20,201.32 453.80,201.10 454.27,201.83 454.73,203.40 455.20,205.10 455.67,206.54 456.13,209.40 456.60,211.20 457.20,213.35 457.80,214.70 458.32,215.42 458.84,214.79 459.36,215.65 459.88,215.81 460.40,215.90 460.90,215.67 461.40,216.36 461.90,216.49 462.40,215.97 462.90,216.60 463.40,216.25 463.90,216.40 464.42,216.55 464.94,217.01 465.46,217.06 465.98,216.88 466.50,217.20 466.95,217.20 467.40,217.20 467.85,217.21 468.31,217.21 468.76,217.21 469.21,217.21 469.66,217.21 470.11,217.22 470.56,217.22 471.01,217.22 471.47,217.22 471.92,217.22 472.37,217.23 472.82,217.23 473.27,217.23 473.72,217.23 474.17,217.23 474.63,217.23 475.08,217.24 475.53,217.24 475.98,217.24 476.43,217.24 476.88,217.24 477.33,217.25 477.79,217.25 478.24,217.25 478.69,217.25 479.14,217.25 479.59,217.26 480.04,217.26 480.50,217.26 480.95,217.26 481.40,217.26 481.85,217.27 482.30,217.27 482.75,217.27 483.20,217.27 483.66,217.27 484.11,217.28 484.56,217.28 485.01,217.28 485.46,217.28 485.91,217.28 486.36,217.29 486.82,217.29 487.27,217.29 487.72,217.29 488.17,217.29 488.62,217.30 489.07,217.30 489.52,217.30 489.98,217.30 490.43,217.30 490.88,217.30 491.33,217.31 491.78,217.31 492.23,217.31 492.68,217.31 493.14,217.31 493.59,217.32 494.04,217.32 494.49,217.32 494.94,217.32 495.39,217.32 495.84,217.33 496.30,217.33 496.75,217.33 497.20,217.33 497.65,217.33 498.10,217.34 498.55,217.34 499.00,217.34 499.46,217.34 499.91,217.34 500.36,217.35 500.81,217.35 501.26,217.35 501.71,217.35 502.17,217.35 502.62,217.36 503.07,217.36 503.52,217.36 503.97,217.36 504.42,217.36 504.87,217.37 505.33,217.37 505.78,217.37 506.23,217.37 506.68,217.37 507.13,217.37 507.58,217.38 508.03,217.38 508.49,217.38 508.94,217.38 509.39,217.38 509.84,217.39 510.29,217.39 510.74,217.39 511.19,217.39 511.65,217.39 512.10,217.40 512.55,217.40 513.00,217.40 513.00,218.40 421.30,218.40" fill="#000"/>
<line x1="418.1" y1="137.0" x2="514.30" y2="137.0" stroke="#555" stroke-width="1.2"/>
<line x1="513.7" y1="137.0" x2="513.7" y2="218.4" stroke="#555" stroke-width="1.2"/>
<line x1="418.1" y1="137.0" x2="418.1" y2="218.4" stroke="#222" stroke-width="1"/>
<line x1="418.1" y1="218.4" x2="513.7" y2="218.4" stroke="#222" stroke-width="1"/>
<line x1="415.50" y1="218.40" x2="418.1" y2="218.40" stroke="#333" stroke-width="0.8"/>
<line x1="416.50" y1="214.33" x2="418.1" y2="214.33" stroke="#333" stroke-width="0.8"/>
<line x1="416.50" y1="210.26" x2="418.1" y2="210.26" stroke="#333" stroke-width="0.8"/>
<line x1="416.50" y1="206.19" x2="418.1" y2="206.19" stroke="#333" stroke-width="0.8"/>
<line x1="415.50" y1="202.12" x2="418.1" y2="202.12" stroke="#333" stroke-width="0.8"/>
<line x1="416.50" y1="198.05" x2="418.1" y2="198.05" stroke="#333" stroke-width="0.8"/>
<line x1="416.50" y1="193.98" x2="418.1" y2="193.98" stroke="#333" stroke-width="0.8"/>
<line x1="416.50" y1="189.91" x2="418.1" y2="189.91" stroke="#333" stroke-width="0.8"/>
<line x1="415.50" y1="185.84" x2="418.1" y2="185.84" stroke="#333" stroke-width="0.8"/>
<line x1="416.50" y1="181.77" x2="418.1" y2="181.77" stroke="#333" stroke-width="0.8"/>
<line x1="416.50" y1="177.70" x2="418.1" y2="177.70" stroke="#333" stroke-width="0.8"/>
<line x1="416.50" y1="173.63" x2="418.1" y2="173.63" stroke="#333" stroke-width="0.8"/>
<line x1="415.50" y1="169.56" x2="418.1" y2="169.56" stroke="#333" stroke-width="0.8"/>
<line x1="416.50" y1="165.49" x2="418.1" y2="165.49" stroke="#333" stroke-width="0.8"/>
<line x1="416.50" y1="161.42" x2="418.1" y2="161.42" stroke="#333" stroke-width="0.8"/>
<line x1="416.50" y1="157.35" x2="418.1" y2="157.35" stroke="#333" stroke-width="0.8"/>
<line x1="415.50" y1="153.28" x2="418.1" y2="153.28" stroke="#333" stroke-width="0.8"/>
<line x1="416.50" y1="149.21" x2="418.1" y2="149.21" stroke="#333" stroke-width="0.8"/>
<line x1="416.50" y1="145.14" x2="418.1" y2="145.14" stroke="#333" stroke-width="0.8"/>
<line x1="416.50" y1="141.07" x2="418.1" y2="141.07" stroke="#333" stroke-width="0.8"/>
<line x1="415.50" y1="137.00" x2="418.1" y2="137.00" stroke="#333" stroke-width="0.8"/>
<text transform="translate(413.50,218.40) rotate(-90)" font-size="5.0" font-weight="bold" text-anchor="middle" fill="#333">0</text>
<text transform="translate(413.50,202.12) rotate(-90)" font-size="5.0" font-weight="bold" text-anchor="middle" fill="#333">40</text>
<text transform="translate(413.50,185.84) rotate(-90)" font-size="5.0" font-weight="bold" text-anchor="middle" fill="#333">80</text>
<text transform="translate(413.50,169.56) rotate(-90)" font-size="5.0" font-weight="bold" text-anchor="middle" fill="#333">120</text>
<text transform="translate(413.50,153.28) rotate(-90)" font-size="5.0" font-weight="bold" text-anchor="middle" fill="#333">160</text>
<text transform="translate(413.50,137.00) rotate(-90)" font-size="5.0" font-weight="bold" text-anchor="middle" fill="#333">200</text>
<text transform="translate(406.90,177.70) rotate(-90)" font-size="4.8" font-weight="bold" text-anchor="middle" fill="#444">Counts</text>
<line x1="418.10" y1="218.4" x2="418.10" y2="221.00" stroke="#333" stroke-width="0.8"/>
<line x1="422.77" y1="218.4" x2="422.77" y2="220.00" stroke="#333" stroke-width="0.8"/>
<line x1="427.44" y1="218.4" x2="427.44" y2="220.00" stroke="#333" stroke-width="0.8"/>
<line x1="432.10" y1="218.4" x2="432.10" y2="220.00" stroke="#333" stroke-width="0.8"/>
<line x1="436.77" y1="218.4" x2="436.77" y2="221.00" stroke="#333" stroke-width="0.8"/>
<line x1="441.44" y1="218.4" x2="441.44" y2="220.00" stroke="#333" stroke-width="0.8"/>
<line x1="446.11" y1="218.4" x2="446.11" y2="220.00" stroke="#333" stroke-width="0.8"/>
<line x1="450.78" y1="218.4" x2="450.78" y2="220.00" stroke="#333" stroke-width="0.8"/>
<line x1="455.44" y1="218.4" x2="455.44" y2="221.00" stroke="#333" stroke-width="0.8"/>
<line x1="460.11" y1="218.4" x2="460.11" y2="220.00" stroke="#333" stroke-width="0.8"/>
<line x1="464.78" y1="218.4" x2="464.78" y2="220.00" stroke="#333" stroke-width="0.8"/>
<line x1="469.45" y1="218.4" x2="469.45" y2="220.00" stroke="#333" stroke-width="0.8"/>
<line x1="474.12" y1="218.4" x2="474.12" y2="221.00" stroke="#333" stroke-width="0.8"/>
<line x1="478.78" y1="218.4" x2="478.78" y2="220.00" stroke="#333" stroke-width="0.8"/>
<line x1="483.45" y1="218.4" x2="483.45" y2="220.00" stroke="#333" stroke-width="0.8"/>
<line x1="488.12" y1="218.4" x2="488.12" y2="220.00" stroke="#333" stroke-width="0.8"/>
<line x1="492.79" y1="218.4" x2="492.79" y2="221.00" stroke="#333" stroke-width="0.8"/>
<line x1="497.46" y1="218.4" x2="497.46" y2="220.00" stroke="#333" stroke-width="0.8"/>
<line x1="502.12" y1="218.4" x2="502.12" y2="220.00" stroke="#333" stroke-width="0.8"/>
<line x1="506.79" y1="218.4" x2="506.79" y2="220.00" stroke="#333" stroke-width="0.8"/>
<line x1="511.46" y1="218.4" x2="511.46" y2="221.00" stroke="#333" stroke-width="0.8"/>
<text x="418.10" y="225.40" font-size="5.0" font-weight="bold" text-anchor="middle" fill="#333">0</text>
<text x="436.77" y="225.40" font-size="5.0" font-weight="bold" text-anchor="middle" fill="#333">200</text>
<text x="455.44" y="225.40" font-size="5.0" font-weight="bold" text-anchor="middle" fill="#333">400</text>
<text x="474.12" y="225.40" font-size="5.0" font-weight="bold" text-anchor="middle" fill="#333">600</text>
<text x="492.79" y="225.40" font-size="5.0" font-weight="bold" text-anchor="middle" fill="#333">800</text>
<text x="511.46" y="225.40" font-size="5.0" font-weight="bold" text-anchor="middle" fill="#333">1000</text>
<text x="465.90" y="231.20" font-size="5.1" font-weight="bold" text-anchor="middle" fill="#333">FL3-H</text>
<text x="428.90" y="126.60" font-size="10.8" text-anchor="start" fill="#000" textLength="57.80" lengthAdjust="spacingAndGlyphs" stroke="#000" stroke-width="0.3">OPM2-JUN</text>
<text x="486.80" y="122.90" font-size="7.3" text-anchor="start" fill="#555" >H</text>
<polygon points="301.00,330.60 301.00,329.30 301.45,329.25 301.90,329.29 302.35,329.17 302.80,329.07 303.25,329.14 303.70,329.37 304.15,328.93 304.60,329.25 305.05,329.17 305.50,328.89 305.95,329.07 306.40,329.25 306.85,329.17 307.30,328.87 307.75,329.46 308.20,329.32 308.65,329.43 309.10,328.85 309.55,328.94 310.00,328.78 310.45,329.26 310.90,328.91 311.35,328.80 311.80,328.99 312.25,329.32 312.70,329.24 313.15,328.84 313.60,329.00 314.15,327.24 314.70,326.30 315.25,319.54 315.80,311.60 316.40,294.70 317.00,277.60 317.60,261.80 318.10,267.73 318.60,273.10 319.50,300.20 320.40,314.30 320.95,314.45 321.50,315.13 322.05,316.74 322.60,317.20 323.09,317.42 323.57,317.26 324.06,318.80 324.54,318.70 325.03,319.27 325.51,318.59 326.00,319.50 326.49,319.83 326.97,318.55 327.46,319.49 327.94,318.75 328.43,318.42 328.91,318.55 329.40,318.30 329.86,318.46 330.32,317.10 330.78,316.46 331.24,316.58 331.70,316.10 332.15,314.88 332.60,313.85 333.05,313.08 333.50,312.70 334.03,313.04 334.57,314.22 335.10,315.60 335.65,318.99 336.20,322.90 336.75,325.43 337.30,328.50 337.90,329.23 338.50,329.60 338.95,329.50 339.40,329.61 339.86,329.45 340.31,329.54 340.76,329.38 341.21,329.50 341.66,329.39 342.12,329.74 342.57,329.65 343.02,329.48 343.47,329.62 343.92,329.85 344.38,329.45 344.83,329.80 345.28,329.62 345.73,329.65 346.18,329.81 346.64,329.61 347.09,329.66 347.54,329.75 347.99,329.89 348.44,329.60 348.90,329.83 349.35,329.77 349.80,329.74 350.25,329.64 350.70,329.62 351.16,329.49 351.61,329.52 352.06,329.50 352.51,329.81 352.96,329.59 353.42,329.55 353.87,329.52 354.32,329.87 354.77,329.88 355.22,329.79 355.68,329.62 356.13,329.61 356.58,329.64 357.03,329.71 357.48,329.58 357.94,329.71 358.39,329.64 358.84,329.95 359.29,329.95 359.74,329.77 360.20,329.64 360.65,329.96 361.10,329.68 361.55,329.70 362.00,329.55 362.46,329.72 362.91,329.76 363.36,329.78 363.81,329.65 364.26,329.78 364.72,329.58 365.17,329.69 365.62,329.62 366.07,329.75 366.52,329.61 366.98,329.80 367.43,329.80 367.88,329.81 368.33,329.81 368.78,329.81 369.24,329.82 369.69,329.82 370.14,329.82 370.59,329.83 371.04,329.83 371.50,329.83 371.95,329.84 372.40,329.84 372.85,329.84 373.30,329.85 373.76,329.85 374.21,329.85 374.66,329.86 375.11,329.86 375.56,329.86 376.02,329.87 376.47,329.87 376.92,329.87 377.37,329.88 377.82,329.88 378.28,329.88 378.73,329.88 379.18,329.89 379.63,329.89 380.08,329.89 380.54,329.90 380.99,329.90 381.44,329.90 381.89,329.91 382.34,329.91 382.80,329.91 383.25,329.92 383.70,329.92 384.15,329.92 384.60,329.93 385.06,329.93 385.51,329.93 385.96,329.94 386.41,329.94 386.86,329.94 387.32,329.95 387.77,329.95 388.22,329.95 388.67,329.96 389.12,329.96 389.58,329.96 390.03,329.96 390.48,329.97 390.93,329.97 391.38,329.97 391.84,329.98 392.29,329.98 392.74,329.98 393.19,329.99 393.64,329.99 394.10,329.99 394.55,330.00 395.00,330.00 395.00,331.00 301.00,331.00" fill="#1e1e1e"/>
<line x1="299.3" y1="251.2" x2="395.90" y2="251.2" stroke="#555" stroke-width="1.2"/>
<line x1="395.3" y1="251.2" x2="395.3" y2="331.0" stroke="#555" stroke-width="1.2"/>
<line x1="299.3" y1="251.2" x2="299.3" y2="331.0" stroke="#222" stroke-width="1"/>
<line x1="299.3" y1="331.0" x2="395.3" y2="331.0" stroke="#222" stroke-width="1"/>
<line x1="296.70" y1="331.00" x2="299.3" y2="331.00" stroke="#333" stroke-width="0.8"/>
<line x1="297.70" y1="327.01" x2="299.3" y2="327.01" stroke="#333" stroke-width="0.8"/>
<line x1="297.70" y1="323.02" x2="299.3" y2="323.02" stroke="#333" stroke-width="0.8"/>
<line x1="297.70" y1="319.03" x2="299.3" y2="319.03" stroke="#333" stroke-width="0.8"/>
<line x1="296.70" y1="315.04" x2="299.3" y2="315.04" stroke="#333" stroke-width="0.8"/>
<line x1="297.70" y1="311.05" x2="299.3" y2="311.05" stroke="#333" stroke-width="0.8"/>
<line x1="297.70" y1="307.06" x2="299.3" y2="307.06" stroke="#333" stroke-width="0.8"/>
<line x1="297.70" y1="303.07" x2="299.3" y2="303.07" stroke="#333" stroke-width="0.8"/>
<line x1="296.70" y1="299.08" x2="299.3" y2="299.08" stroke="#333" stroke-width="0.8"/>
<line x1="297.70" y1="295.09" x2="299.3" y2="295.09" stroke="#333" stroke-width="0.8"/>
<line x1="297.70" y1="291.10" x2="299.3" y2="291.10" stroke="#333" stroke-width="0.8"/>
<line x1="297.70" y1="287.11" x2="299.3" y2="287.11" stroke="#333" stroke-width="0.8"/>
<line x1="296.70" y1="283.12" x2="299.3" y2="283.12" stroke="#333" stroke-width="0.8"/>
<line x1="297.70" y1="279.13" x2="299.3" y2="279.13" stroke="#333" stroke-width="0.8"/>
<line x1="297.70" y1="275.14" x2="299.3" y2="275.14" stroke="#333" stroke-width="0.8"/>
<line x1="297.70" y1="271.15" x2="299.3" y2="271.15" stroke="#333" stroke-width="0.8"/>
<line x1="296.70" y1="267.16" x2="299.3" y2="267.16" stroke="#333" stroke-width="0.8"/>
<line x1="297.70" y1="263.17" x2="299.3" y2="263.17" stroke="#333" stroke-width="0.8"/>
<line x1="297.70" y1="259.18" x2="299.3" y2="259.18" stroke="#333" stroke-width="0.8"/>
<line x1="297.70" y1="255.19" x2="299.3" y2="255.19" stroke="#333" stroke-width="0.8"/>
<line x1="296.70" y1="251.20" x2="299.3" y2="251.20" stroke="#333" stroke-width="0.8"/>
<text transform="translate(294.70,331.00) rotate(-90)" font-size="5.0" font-weight="bold" text-anchor="middle" fill="#333">0</text>
<text transform="translate(294.70,315.04) rotate(-90)" font-size="5.0" font-weight="bold" text-anchor="middle" fill="#333">40</text>
<text transform="translate(294.70,299.08) rotate(-90)" font-size="5.0" font-weight="bold" text-anchor="middle" fill="#333">80</text>
<text transform="translate(294.70,283.12) rotate(-90)" font-size="5.0" font-weight="bold" text-anchor="middle" fill="#333">120</text>
<text transform="translate(294.70,267.16) rotate(-90)" font-size="5.0" font-weight="bold" text-anchor="middle" fill="#333">160</text>
<text transform="translate(294.70,251.20) rotate(-90)" font-size="5.0" font-weight="bold" text-anchor="middle" fill="#333">200</text>
<text transform="translate(288.10,291.10) rotate(-90)" font-size="4.8" font-weight="bold" text-anchor="middle" fill="#444">Counts</text>
<line x1="299.30" y1="331.0" x2="299.30" y2="333.60" stroke="#333" stroke-width="0.8"/>
<line x1="303.99" y1="331.0" x2="303.99" y2="332.60" stroke="#333" stroke-width="0.8"/>
<line x1="308.68" y1="331.0" x2="308.68" y2="332.60" stroke="#333" stroke-width="0.8"/>
<line x1="313.36" y1="331.0" x2="313.36" y2="332.60" stroke="#333" stroke-width="0.8"/>
<line x1="318.05" y1="331.0" x2="318.05" y2="333.60" stroke="#333" stroke-width="0.8"/>
<line x1="322.74" y1="331.0" x2="322.74" y2="332.60" stroke="#333" stroke-width="0.8"/>
<line x1="327.43" y1="331.0" x2="327.43" y2="332.60" stroke="#333" stroke-width="0.8"/>
<line x1="332.11" y1="331.0" x2="332.11" y2="332.60" stroke="#333" stroke-width="0.8"/>
<line x1="336.80" y1="331.0" x2="336.80" y2="333.60" stroke="#333" stroke-width="0.8"/>
<line x1="341.49" y1="331.0" x2="341.49" y2="332.60" stroke="#333" stroke-width="0.8"/>
<line x1="346.18" y1="331.0" x2="346.18" y2="332.60" stroke="#333" stroke-width="0.8"/>
<line x1="350.86" y1="331.0" x2="350.86" y2="332.60" stroke="#333" stroke-width="0.8"/>
<line x1="355.55" y1="331.0" x2="355.55" y2="333.60" stroke="#333" stroke-width="0.8"/>
<line x1="360.24" y1="331.0" x2="360.24" y2="332.60" stroke="#333" stroke-width="0.8"/>
<line x1="364.93" y1="331.0" x2="364.93" y2="332.60" stroke="#333" stroke-width="0.8"/>
<line x1="369.61" y1="331.0" x2="369.61" y2="332.60" stroke="#333" stroke-width="0.8"/>
<line x1="374.30" y1="331.0" x2="374.30" y2="333.60" stroke="#333" stroke-width="0.8"/>
<line x1="378.99" y1="331.0" x2="378.99" y2="332.60" stroke="#333" stroke-width="0.8"/>
<line x1="383.68" y1="331.0" x2="383.68" y2="332.60" stroke="#333" stroke-width="0.8"/>
<line x1="388.36" y1="331.0" x2="388.36" y2="332.60" stroke="#333" stroke-width="0.8"/>
<line x1="393.05" y1="331.0" x2="393.05" y2="333.60" stroke="#333" stroke-width="0.8"/>
<text x="299.30" y="338.00" font-size="5.0" font-weight="bold" text-anchor="middle" fill="#333">0</text>
<text x="318.05" y="338.00" font-size="5.0" font-weight="bold" text-anchor="middle" fill="#333">200</text>
<text x="336.80" y="338.00" font-size="5.0" font-weight="bold" text-anchor="middle" fill="#333">400</text>
<text x="355.55" y="338.00" font-size="5.0" font-weight="bold" text-anchor="middle" fill="#333">600</text>
<text x="374.30" y="338.00" font-size="5.0" font-weight="bold" text-anchor="middle" fill="#333">800</text>
<text x="393.05" y="338.00" font-size="5.0" font-weight="bold" text-anchor="middle" fill="#333">1000</text>
<text x="347.30" y="343.80" font-size="5.1" font-weight="bold" text-anchor="middle" fill="#333">FL2-H</text>
<text x="314.80" y="243.70" font-size="10.8" text-anchor="start" fill="#000" textLength="46.20" lengthAdjust="spacingAndGlyphs" stroke="#000" stroke-width="0.3">U266-EV</text>
<polygon points="423.10,330.50 423.90,310.40 424.70,297.70 425.15,303.38 425.60,310.40 426.20,312.48 426.80,315.10 427.33,314.26 427.87,314.29 428.40,313.70 428.87,312.07 429.33,310.72 429.80,308.70 430.37,305.82 430.93,302.80 431.50,299.40 432.07,299.10 432.63,297.58 433.20,296.90 433.85,294.11 434.50,291.80 435.10,289.13 435.70,285.10 436.30,282.51 436.90,280.90 437.55,282.91 438.20,284.30 438.85,290.80 439.50,296.90 440.10,303.01 440.70,310.40 441.27,313.54 441.83,316.28 442.40,318.40 442.97,319.54 443.53,320.66 444.10,321.30 444.60,321.90 445.10,321.12 445.60,321.81 446.10,321.95 446.60,322.10 447.10,322.41 447.60,322.21 448.10,322.08 448.60,321.58 449.10,321.30 449.62,321.69 450.14,321.24 450.66,321.09 451.18,320.28 451.70,320.50 452.27,319.71 452.83,319.72 453.40,320.10 453.93,320.87 454.47,321.48 455.00,323.00 455.52,323.97 456.04,324.08 456.56,324.68 457.08,325.18 457.60,325.50 458.10,326.25 458.60,326.49 459.10,326.30 459.60,327.86 460.10,328.00 460.60,328.57 461.10,328.68 461.60,329.04 462.10,329.45 462.60,329.70 463.10,329.80 463.60,329.90 464.10,330.00 464.60,330.10 465.10,330.20 465.55,330.20 466.01,330.20 466.46,330.20 466.91,330.20 467.37,330.20 467.82,330.20 468.28,330.20 468.73,330.20 469.18,330.20 469.64,330.20 470.09,330.20 470.54,330.20 471.00,330.20 471.45,330.20 471.90,330.20 472.36,330.20 472.81,330.20 473.27,330.20 473.72,330.20 474.17,330.20 474.63,330.20 475.08,330.20 475.53,330.20 475.99,330.20 476.44,330.20 476.89,330.20 477.35,330.20 477.80,330.20 478.26,330.20 478.71,330.20 479.16,330.20 479.62,330.20 480.07,330.20 480.52,330.20 480.98,330.20 481.43,330.20 481.88,330.20 482.34,330.20 482.79,330.20 483.25,330.20 483.70,330.20 484.15,330.20 484.61,330.20 485.06,330.20 485.51,330.20 485.97,330.20 486.42,330.20 486.87,330.20 487.33,330.20 487.78,330.20 488.24,330.20 488.69,330.20 489.14,330.20 489.60,330.20 490.05,330.20 490.50,330.20 490.96,330.20 491.41,330.20 491.86,330.20 492.32,330.20 492.77,330.20 493.23,330.20 493.68,330.20 494.13,330.20 494.59,330.20 495.04,330.20 495.49,330.20 495.95,330.20 496.40,330.20 496.85,330.20 497.31,330.20 497.76,330.20 498.22,330.20 498.67,330.20 499.12,330.20 499.58,330.20 500.03,330.20 500.48,330.20 500.94,330.20 501.39,330.20 501.84,330.20 502.30,330.20 502.75,330.20 503.21,330.20 503.66,330.20 504.11,330.20 504.57,330.20 505.02,330.20 505.47,330.20 505.93,330.20 506.38,330.20 506.83,330.20 507.29,330.20 507.74,330.20 508.20,330.20 508.65,330.20 509.10,330.20 509.56,330.20 510.01,330.20 510.46,330.20 510.92,330.20 511.37,330.20 511.82,330.20 512.28,330.20 512.73,330.20 513.19,330.20 513.64,330.20 514.09,330.20 514.55,330.20 515.00,330.20 515.00,331.00 423.10,331.00" fill="#000"/>
<line x1="419.1" y1="250.9" x2="516.40" y2="250.9" stroke="#555" stroke-width="1.2"/>
<line x1="515.8" y1="250.9" x2="515.8" y2="331.0" stroke="#555" stroke-width="1.2"/>
<line x1="419.1" y1="250.9" x2="419.1" y2="331.0" stroke="#222" stroke-width="1"/>
<line x1="419.1" y1="331.0" x2="515.8" y2="331.0" stroke="#222" stroke-width="1"/>
<line x1="416.50" y1="331.00" x2="419.1" y2="331.00" stroke="#333" stroke-width="0.8"/>
<line x1="417.50" y1="327.00" x2="419.1" y2="327.00" stroke="#333" stroke-width="0.8"/>
<line x1="417.50" y1="322.99" x2="419.1" y2="322.99" stroke="#333" stroke-width="0.8"/>
<line x1="417.50" y1="318.99" x2="419.1" y2="318.99" stroke="#333" stroke-width="0.8"/>
<line x1="416.50" y1="314.98" x2="419.1" y2="314.98" stroke="#333" stroke-width="0.8"/>
<line x1="417.50" y1="310.98" x2="419.1" y2="310.98" stroke="#333" stroke-width="0.8"/>
<line x1="417.50" y1="306.97" x2="419.1" y2="306.97" stroke="#333" stroke-width="0.8"/>
<line x1="417.50" y1="302.97" x2="419.1" y2="302.97" stroke="#333" stroke-width="0.8"/>
<line x1="416.50" y1="298.96" x2="419.1" y2="298.96" stroke="#333" stroke-width="0.8"/>
<line x1="417.50" y1="294.95" x2="419.1" y2="294.95" stroke="#333" stroke-width="0.8"/>
<line x1="417.50" y1="290.95" x2="419.1" y2="290.95" stroke="#333" stroke-width="0.8"/>
<line x1="417.50" y1="286.94" x2="419.1" y2="286.94" stroke="#333" stroke-width="0.8"/>
<line x1="416.50" y1="282.94" x2="419.1" y2="282.94" stroke="#333" stroke-width="0.8"/>
<line x1="417.50" y1="278.94" x2="419.1" y2="278.94" stroke="#333" stroke-width="0.8"/>
<line x1="417.50" y1="274.93" x2="419.1" y2="274.93" stroke="#333" stroke-width="0.8"/>
<line x1="417.50" y1="270.93" x2="419.1" y2="270.93" stroke="#333" stroke-width="0.8"/>
<line x1="416.50" y1="266.92" x2="419.1" y2="266.92" stroke="#333" stroke-width="0.8"/>
<line x1="417.50" y1="262.92" x2="419.1" y2="262.92" stroke="#333" stroke-width="0.8"/>
<line x1="417.50" y1="258.91" x2="419.1" y2="258.91" stroke="#333" stroke-width="0.8"/>
<line x1="417.50" y1="254.91" x2="419.1" y2="254.91" stroke="#333" stroke-width="0.8"/>
<line x1="416.50" y1="250.90" x2="419.1" y2="250.90" stroke="#333" stroke-width="0.8"/>
<text transform="translate(414.50,331.00) rotate(-90)" font-size="5.0" font-weight="bold" text-anchor="middle" fill="#333">0</text>
<text transform="translate(414.50,314.98) rotate(-90)" font-size="5.0" font-weight="bold" text-anchor="middle" fill="#333">40</text>
<text transform="translate(414.50,298.96) rotate(-90)" font-size="5.0" font-weight="bold" text-anchor="middle" fill="#333">80</text>
<text transform="translate(414.50,282.94) rotate(-90)" font-size="5.0" font-weight="bold" text-anchor="middle" fill="#333">120</text>
<text transform="translate(414.50,266.92) rotate(-90)" font-size="5.0" font-weight="bold" text-anchor="middle" fill="#333">160</text>
<text transform="translate(414.50,250.90) rotate(-90)" font-size="5.0" font-weight="bold" text-anchor="middle" fill="#333">200</text>
<text transform="translate(407.90,290.95) rotate(-90)" font-size="4.8" font-weight="bold" text-anchor="middle" fill="#444">Counts</text>
<line x1="419.10" y1="331.0" x2="419.10" y2="333.60" stroke="#333" stroke-width="0.8"/>
<line x1="423.82" y1="331.0" x2="423.82" y2="332.60" stroke="#333" stroke-width="0.8"/>
<line x1="428.54" y1="331.0" x2="428.54" y2="332.60" stroke="#333" stroke-width="0.8"/>
<line x1="433.27" y1="331.0" x2="433.27" y2="332.60" stroke="#333" stroke-width="0.8"/>
<line x1="437.99" y1="331.0" x2="437.99" y2="333.60" stroke="#333" stroke-width="0.8"/>
<line x1="442.71" y1="331.0" x2="442.71" y2="332.60" stroke="#333" stroke-width="0.8"/>
<line x1="447.43" y1="331.0" x2="447.43" y2="332.60" stroke="#333" stroke-width="0.8"/>
<line x1="452.15" y1="331.0" x2="452.15" y2="332.60" stroke="#333" stroke-width="0.8"/>
<line x1="456.87" y1="331.0" x2="456.87" y2="333.60" stroke="#333" stroke-width="0.8"/>
<line x1="461.60" y1="331.0" x2="461.60" y2="332.60" stroke="#333" stroke-width="0.8"/>
<line x1="466.32" y1="331.0" x2="466.32" y2="332.60" stroke="#333" stroke-width="0.8"/>
<line x1="471.04" y1="331.0" x2="471.04" y2="332.60" stroke="#333" stroke-width="0.8"/>
<line x1="475.76" y1="331.0" x2="475.76" y2="333.60" stroke="#333" stroke-width="0.8"/>
<line x1="480.48" y1="331.0" x2="480.48" y2="332.60" stroke="#333" stroke-width="0.8"/>
<line x1="485.20" y1="331.0" x2="485.20" y2="332.60" stroke="#333" stroke-width="0.8"/>
<line x1="489.93" y1="331.0" x2="489.93" y2="332.60" stroke="#333" stroke-width="0.8"/>
<line x1="494.65" y1="331.0" x2="494.65" y2="333.60" stroke="#333" stroke-width="0.8"/>
<line x1="499.37" y1="331.0" x2="499.37" y2="332.60" stroke="#333" stroke-width="0.8"/>
<line x1="504.09" y1="331.0" x2="504.09" y2="332.60" stroke="#333" stroke-width="0.8"/>
<line x1="508.81" y1="331.0" x2="508.81" y2="332.60" stroke="#333" stroke-width="0.8"/>
<line x1="513.53" y1="331.0" x2="513.53" y2="333.60" stroke="#333" stroke-width="0.8"/>
<text x="419.10" y="338.00" font-size="5.0" font-weight="bold" text-anchor="middle" fill="#333">0</text>
<text x="437.99" y="338.00" font-size="5.0" font-weight="bold" text-anchor="middle" fill="#333">200</text>
<text x="456.87" y="338.00" font-size="5.0" font-weight="bold" text-anchor="middle" fill="#333">400</text>
<text x="475.76" y="338.00" font-size="5.0" font-weight="bold" text-anchor="middle" fill="#333">600</text>
<text x="494.65" y="338.00" font-size="5.0" font-weight="bold" text-anchor="middle" fill="#333">800</text>
<text x="513.53" y="338.00" font-size="5.0" font-weight="bold" text-anchor="middle" fill="#333">1000</text>
<text x="467.45" y="343.80" font-size="5.1" font-weight="bold" text-anchor="middle" fill="#333">FL2-H</text>
<text x="436.20" y="243.60" font-size="10.8" text-anchor="start" fill="#000" textLength="52.40" lengthAdjust="spacingAndGlyphs" stroke="#000" stroke-width="0.3">U266-JUN</text>
<text x="488.90" y="240.10" font-size="7.3" text-anchor="start" fill="#555" >H</text>
<text x="1.0" y="48.9" font-size="13.6" font-weight="bold" fill="#000">A</text>
<text x="266" y="11.1" font-size="14.4" font-weight="bold" fill="#000">B</text>
</svg></body></html>
